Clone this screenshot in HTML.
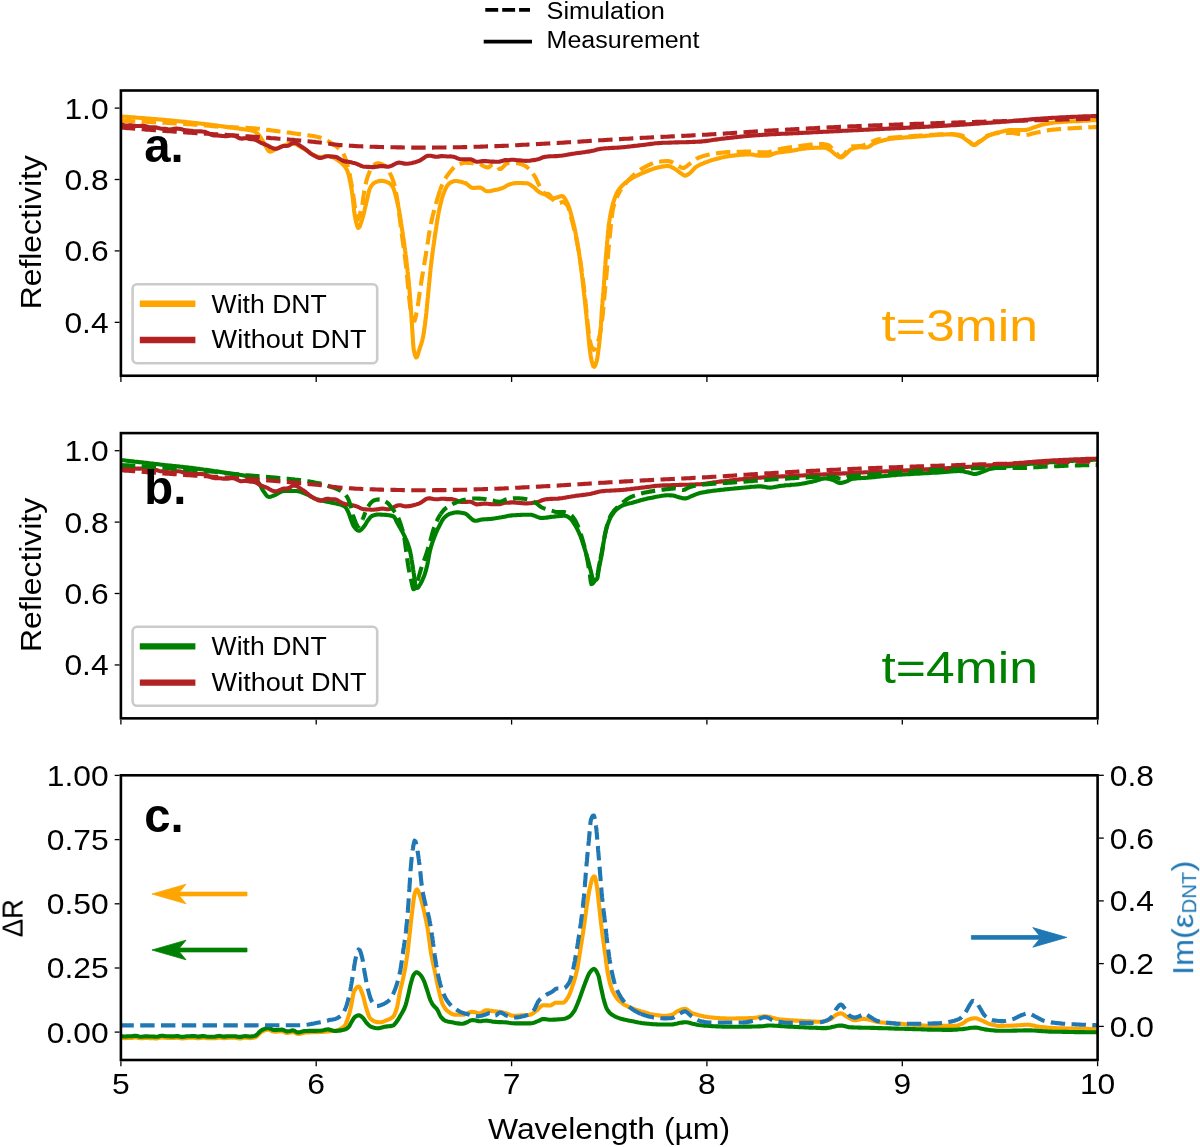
<!DOCTYPE html>
<html><head><meta charset="utf-8"><title>Reflectivity spectra</title>
<style>html,body{margin:0;padding:0;background:#fff}svg{display:block}text{font-family:"Liberation Sans", sans-serif}</style>
</head><body>
<svg width="1200" height="1147" viewBox="0 0 1200 1147" font-family='"Liberation Sans", sans-serif'>
<rect width="1200" height="1147" fill="#fff"/>
<defs>
<clipPath id="clipa"><rect x="120.9" y="90.5" width="976.6999999999999" height="285.25"/></clipPath>
<clipPath id="clipb"><rect x="120.9" y="433.1" width="976.6999999999999" height="285.25"/></clipPath>
<clipPath id="clipc"><rect x="120.9" y="775.3" width="976.6999999999999" height="284.70000000000005"/></clipPath>
<filter id="nf" x="0" y="0" width="1200" height="1147" filterUnits="userSpaceOnUse" color-interpolation-filters="sRGB"><feOffset dx="0" dy="0"/></filter>
</defs>
<path d="M120.9,120.8L122.4,120.9L123.9,120.9L125.4,121.0L126.9,121.0L128.4,121.1L129.9,121.1L131.4,121.2L132.9,121.2L134.4,121.3L135.9,121.4L137.4,121.4L138.9,121.5L140.4,121.6L141.9,121.6L143.4,121.7L144.9,121.8L146.4,121.8L147.9,121.9L149.4,122.0L150.9,122.0L152.4,122.1L153.9,122.2L155.4,122.3L156.9,122.3L158.4,122.4L159.9,122.5L161.4,122.6L162.9,122.7L164.4,122.7L165.9,122.8L167.4,122.9L168.9,123.0L170.4,123.1L171.9,123.2L173.4,123.2L174.9,123.3L176.4,123.4L177.9,123.5L179.4,123.6L180.9,123.7L182.4,123.8L183.9,123.9L185.4,124.0L186.9,124.1L188.4,124.2L189.9,124.3L191.4,124.4L192.9,124.5L194.4,124.6L195.9,124.7L197.4,124.8L198.9,124.9L200.4,125.0L201.9,125.1L203.4,125.3L204.9,125.4L206.4,125.5L207.9,125.7L209.4,125.8L210.9,126.0L212.4,126.1L213.9,126.2L215.4,126.4L216.9,126.5L218.4,126.6L219.9,126.7L221.4,126.8L222.9,126.9L224.4,127.0L225.9,127.0L227.4,127.1L228.9,127.2L230.4,127.2L231.9,127.3L233.4,127.4L234.9,127.4L236.4,127.5L237.9,127.5L239.4,127.6L240.9,127.7L242.4,127.7L243.9,127.8L245.4,127.9L246.9,127.9L248.4,128.0L249.9,128.1L251.4,128.2L252.9,128.3L254.4,128.4L255.9,128.5L257.4,128.7L258.9,128.8L260.4,129.0L261.9,129.1L263.4,129.3L264.9,129.5L266.4,129.7L267.9,129.9L269.4,130.1L270.9,130.3L272.4,130.5L273.9,130.7L275.4,130.9L276.9,131.1L278.4,131.3L279.9,131.5L281.4,131.7L282.9,131.9L284.4,132.1L285.9,132.3L287.4,132.5L288.9,132.6L290.4,132.8L291.9,133.1L293.4,133.3L294.9,133.5L296.4,133.7L297.9,133.9L299.4,134.1L300.9,134.3L302.4,134.5L303.9,134.7L305.4,134.9L306.9,135.1L308.4,135.3L309.9,135.6L311.4,135.8L312.9,136.0L314.4,136.3L315.9,136.6L317.4,136.9L318.9,137.2L320.4,137.6L321.6,138.0L322.9,138.5L324.1,139.0L325.4,139.6L326.6,140.3L327.9,141.0L329.1,141.7L330.4,142.5L331.6,143.3L332.9,144.1L334.1,145.0L335.4,145.8L336.6,146.7L337.9,147.7L338.9,148.6L339.9,149.5L340.9,150.6L341.9,151.8L342.9,153.2L343.6,154.4L344.4,155.9L345.1,157.7L345.6,159.1L346.1,160.6L346.6,162.1L347.1,163.8L347.6,165.5L348.1,167.2L348.6,169.2L349.1,171.5L349.6,173.9L349.9,175.2L350.1,176.6L350.4,177.9L350.6,179.3L350.9,180.8L351.1,182.2L351.4,183.7L351.6,185.2L351.9,186.7L352.1,188.2L352.4,189.7L352.6,191.2L352.9,192.7L353.1,194.2L353.4,195.9L353.6,197.6L353.9,199.4L354.1,201.2L354.4,203.0L354.6,204.8L354.9,206.5L355.1,208.0L355.4,209.5L355.6,210.8L355.9,212.2L356.1,213.5L356.4,214.9L356.6,216.2L357.1,218.3L357.9,219.5L358.6,218.3L359.1,216.8L359.6,215.1L360.1,213.5L360.6,212.0L361.1,210.2L361.6,208.2L362.1,206.0L362.4,204.5L362.6,202.9L362.9,201.2L363.1,199.3L363.4,197.4L363.6,195.5L363.9,193.6L364.1,191.8L364.4,190.1L364.6,188.5L364.9,187.2L365.4,184.9L365.9,182.9L366.4,181.0L366.9,179.3L367.4,177.7L367.9,176.2L368.4,174.8L368.9,173.5L369.4,172.3L370.1,170.6L370.9,169.0L371.6,167.5L372.4,166.4L373.4,165.5L374.6,164.6L375.9,163.8L377.1,163.4L378.6,163.3L380.1,163.6L381.4,164.0L382.6,164.5L383.9,165.2L385.1,165.9L386.1,166.8L387.1,168.2L387.9,169.4L388.6,170.8L389.4,172.2L390.1,173.6L390.9,175.1L391.6,176.7L392.1,177.9L392.6,179.2L393.1,180.6L393.6,182.2L394.1,183.8L394.6,185.8L395.1,188.0L395.6,190.5L395.9,191.8L396.1,193.2L396.4,194.5L396.6,196.0L396.9,197.4L397.1,198.9L397.4,200.4L397.6,202.1L397.9,203.8L398.1,205.6L398.4,207.4L398.6,209.3L398.9,211.2L399.1,213.1L399.4,215.1L399.6,217.1L399.9,219.1L400.1,221.2L400.4,223.2L400.6,225.2L400.9,227.2L401.1,229.2L401.4,231.1L401.6,233.1L401.9,234.9L402.1,236.8L402.4,238.6L402.6,240.4L402.9,242.2L403.1,243.9L403.4,245.7L403.6,247.5L403.9,249.2L404.1,251.0L404.4,252.9L404.6,254.7L404.9,256.6L405.1,258.5L405.4,260.5L405.6,262.5L405.9,264.6L406.1,266.8L406.4,269.2L406.6,271.6L406.9,274.2L407.1,276.8L407.4,279.5L407.6,282.2L407.9,284.9L408.1,287.6L408.4,290.2L408.6,292.7L408.9,295.1L409.1,297.3L409.4,299.7L409.6,302.1L409.9,304.5L410.1,306.8L410.4,309.1L410.6,311.2L410.9,313.0L411.1,314.5L411.6,316.4L412.1,317.8L412.6,319.0L413.4,320.4L414.6,320.7L415.1,319.3L415.6,317.2L416.1,314.8L416.6,312.5L416.9,311.3L417.1,309.9L417.4,308.4L417.6,306.8L417.9,305.2L418.1,303.5L418.4,301.8L418.6,300.0L418.9,298.2L419.1,296.4L419.4,294.7L419.6,292.9L419.9,291.1L420.1,289.4L420.4,287.8L420.6,286.2L420.9,284.6L421.1,283.1L421.4,281.5L421.6,280.0L421.9,278.5L422.1,277.0L422.4,275.5L422.6,274.0L422.9,272.5L423.1,271.0L423.4,269.5L423.6,268.0L423.9,266.5L424.1,265.0L424.4,263.5L424.6,262.0L424.9,260.5L425.1,259.0L425.4,257.5L425.6,256.0L425.9,254.5L426.1,253.0L426.4,251.4L426.6,249.8L426.9,248.2L427.1,246.6L427.4,245.0L427.6,243.4L427.9,241.8L428.1,240.2L428.4,238.6L428.6,237.0L428.9,235.4L429.1,233.9L429.4,232.4L429.6,230.9L429.9,229.5L430.1,228.1L430.4,226.7L430.6,225.4L431.1,223.0L431.6,220.7L432.1,218.5L432.6,216.4L433.1,214.3L433.6,212.4L434.1,210.5L434.6,208.6L435.1,206.8L435.6,205.1L436.1,203.3L436.6,201.6L437.1,199.9L437.6,198.2L438.1,196.5L438.6,194.8L439.1,193.2L439.6,191.6L440.1,190.1" fill="none" stroke="#ffa500" stroke-width="4.1" stroke-linejoin="round" stroke-dasharray="14.4 6.4" stroke-dashoffset="0.00" clip-path="url(#clipa)"/>
<path d="M440.1,190.1L440.6,188.7L441.1,187.3L441.6,186.0L442.1,184.8L442.9,183.2L443.6,181.6L444.4,180.2L445.1,178.9L445.9,177.6L446.6,176.5L447.4,175.4L448.4,174.0L449.4,172.7L450.4,171.5L451.4,170.3L452.4,169.1L453.4,168.0L454.4,167.0L455.4,166.2L456.6,165.4L457.9,164.8L459.1,164.3L460.4,163.8L461.6,163.4L463.1,163.1L464.6,162.8L466.1,162.8L467.6,162.9L469.1,163.0L470.6,163.0L472.1,163.1L473.6,163.1L475.1,163.2L476.6,163.2L478.1,163.3L479.6,163.7L480.9,164.4L482.1,165.2L483.4,166.0L484.6,166.6L485.9,167.0L487.1,167.4L488.6,167.4L489.9,166.5L490.9,165.6L492.1,164.7L493.6,164.6L494.9,164.9L496.1,165.5L497.4,166.3L498.4,167.7L499.4,168.9L500.6,169.0L501.9,168.1L502.9,167.1L503.9,166.1L504.9,165.0L505.9,163.9L507.1,163.3L508.6,163.3L510.1,163.3L511.6,163.3L513.1,163.3L514.6,163.3L516.1,163.3L517.6,163.3L519.1,163.5L520.6,164.0L521.9,164.4L523.1,164.9L524.4,165.5L525.6,166.2L526.9,167.0L527.9,167.9L528.9,168.9L529.9,169.9L530.9,171.0L531.9,172.2L532.9,173.5L533.6,174.6L534.4,175.8L535.1,176.9L535.9,178.3L536.6,179.8L537.4,181.4L538.1,183.1L538.9,184.6L539.6,186.1L540.4,187.4L541.1,188.6L541.9,189.9L542.6,191.0L543.4,192.1L544.4,193.4L545.4,194.4L546.4,195.2L547.6,196.1L548.9,196.9L550.1,197.7L551.4,198.4L552.6,199.3L553.9,200.3L554.9,201.3L555.9,202.2L557.1,203.1L558.6,203.2L559.9,202.9L561.1,202.4L562.4,202.1L563.9,202.2L565.1,203.0L566.1,204.0L567.1,205.2L567.9,206.5L568.6,208.4L569.1,209.9L569.6,211.5L570.1,213.3L570.6,215.2L571.1,217.2L571.6,219.2L572.1,221.2L572.6,223.2L573.1,225.1L573.6,227.0L574.1,229.1L574.6,231.2L575.1,233.3L575.6,235.6L576.1,237.9L576.6,240.3L577.1,242.8L577.6,245.4L577.9,246.7L578.1,248.1L578.4,249.4L578.6,250.9L578.9,252.3L579.1,253.8L579.4,255.3L579.6,256.8L579.9,258.4L580.1,260.0L580.4,261.6L580.6,263.2L580.9,264.8L581.1,266.5L581.4,268.2L581.6,270.0L581.9,271.8L582.1,273.6L582.4,275.5L582.6,277.3L582.9,279.3L583.1,281.2L583.4,283.2L583.6,285.3L583.9,287.3L584.1,289.5L584.4,291.7L584.6,293.9L584.9,296.2L585.1,298.5L585.4,300.8L585.6,303.2L585.9,305.5L586.1,307.9L586.4,310.3L586.6,312.8L586.9,315.3L587.1,317.8L587.4,320.3L587.6,322.7L587.9,325.0L588.1,327.1L588.4,329.1L588.6,331.0L588.9,332.9L589.1,334.7L589.4,336.6L589.6,338.3L589.9,339.9L590.1,341.4L590.4,342.7L590.9,344.7L591.4,346.0L591.9,347.2L592.6,348.8L593.6,349.9L594.9,349.4L595.6,348.1L596.4,346.4L597.1,344.6L597.6,343.3L598.1,341.7L598.6,339.9L599.1,337.9L599.6,335.6L600.1,333.3L600.4,331.9L600.6,330.5L600.9,328.9L601.1,327.3L601.4,325.5L601.6,323.7L601.9,321.8L602.1,319.9L602.4,317.8L602.6,315.7L602.9,313.4L603.1,310.8L603.4,308.1L603.6,305.4L603.9,302.6L604.1,299.8L604.4,297.1L604.6,294.4L604.9,291.9L605.1,289.3L605.4,286.8L605.6,284.2L605.9,281.6L606.1,278.9L606.4,276.1L606.6,273.3L606.9,270.2L607.1,267.0L607.4,263.7L607.6,260.5L607.9,257.2L608.1,254.1L608.4,251.1L608.6,248.3L608.9,245.7L609.1,243.1L609.4,240.5L609.6,238.0L609.9,235.6L610.1,233.2L610.4,230.9L610.6,228.6L610.9,226.2L611.1,223.8L611.4,221.4L611.6,219.0L611.9,216.7L612.1,214.6L612.4,212.6L612.6,210.9L612.9,209.5L613.4,207.3L613.9,205.3L614.4,203.6L614.9,202.1L615.4,200.7L615.9,199.5L616.6,197.8L617.4,196.1L618.1,194.6L618.9,193.2L619.6,191.9L620.4,190.7" fill="none" stroke="#ffa500" stroke-width="4.1" stroke-linejoin="round" stroke-dasharray="14.4 6.4" stroke-dashoffset="8.22" clip-path="url(#clipa)"/>
<path d="M620.4,190.7L621.1,189.6L621.9,188.5L622.9,187.1L623.9,185.7L624.9,184.4L625.9,183.2L626.9,182.0L627.9,180.8L628.9,179.7L629.9,178.6L630.9,177.6L631.9,176.6L632.9,175.7L633.9,174.8L634.9,173.9L636.1,172.9L637.4,171.9L638.6,171.0L639.9,170.1L641.1,169.2L642.4,168.4L643.6,167.7L644.9,167.0L646.1,166.4L647.4,165.7L648.6,165.1L649.9,164.5L651.1,163.9L652.4,163.4L653.6,162.9L654.9,162.5L656.4,162.1L657.9,161.9L659.4,161.7L660.9,161.5L662.4,161.3L663.9,161.2L665.4,161.1L666.9,161.0L668.4,161.1L669.9,161.4L671.1,161.8L672.4,162.4L673.6,163.0L674.9,163.6L676.1,164.2L677.4,165.1L678.6,166.0L679.9,166.8L681.1,167.5L682.4,167.9L683.9,167.9L685.1,167.3L686.4,166.5L687.6,165.4L688.6,164.6L689.9,163.7L691.1,162.8L692.4,161.8L693.6,160.8L694.9,159.9L696.1,159.0L697.4,158.3L698.6,157.7L699.9,157.2L701.1,156.8L702.4,156.3L703.6,155.9L704.9,155.6L706.4,155.2L707.9,154.8L709.4,154.5L710.9,154.2L712.4,154.0L713.9,153.7L715.4,153.5L716.9,153.3L718.4,153.1L719.9,152.9L721.4,152.7L722.9,152.5L724.4,152.4L725.9,152.2L727.4,152.1L728.9,152.0L730.4,152.0L731.9,151.9L733.4,151.9L734.9,151.8L736.4,151.8L737.9,151.8L739.4,151.7L740.9,151.7L742.4,151.7L743.9,151.6L745.4,151.6L746.9,151.6L748.4,151.6L749.9,151.6L751.4,151.6L752.9,151.7L754.4,151.8L755.9,151.9L757.4,152.0L758.9,152.1L760.4,152.2L761.9,152.3L763.4,152.4L764.9,152.4L766.4,152.3L767.9,152.2L769.4,151.9L770.9,151.5L772.4,151.1L773.6,150.7L774.9,150.3L776.1,149.9L777.6,149.5L779.1,149.2L780.6,148.9L782.1,148.6L783.6,148.4L785.1,148.1L786.6,147.9L788.1,147.6L789.6,147.4L791.1,147.2L792.6,147.0L794.1,146.8L795.6,146.5L797.1,146.4L798.6,146.2L800.1,146.0L801.6,145.8L803.1,145.6L804.6,145.4L806.1,145.2L807.6,145.0L809.1,144.8L810.6,144.6L812.1,144.5L813.6,144.3L815.1,144.2L816.6,144.1L818.1,144.0L819.6,144.0L821.1,144.0L822.6,144.1L824.1,144.3L825.6,144.5L827.1,144.8L828.6,145.2L829.9,146.2L830.9,147.2L831.9,148.4L832.9,149.7L833.9,150.9L834.9,151.9L835.9,152.9L836.9,153.9L837.9,155.0L838.9,155.9L840.1,156.6L841.6,156.7L842.9,155.8L843.9,154.7L844.9,153.5L845.9,152.2L846.9,151.1L847.9,150.1L848.9,148.9L849.9,147.8L850.9,147.0L852.1,146.5L853.6,146.3L855.1,146.3L856.6,146.2L858.1,146.1L859.6,146.0L861.1,145.8L862.6,145.5L863.9,145.2L865.1,144.7L866.4,144.2L867.6,143.7L868.9,143.2L870.1,142.6L871.4,142.0L872.6,141.4L873.9,140.9L875.1,140.4L876.4,139.9L877.6,139.5L879.1,139.2L880.6,138.9" fill="none" stroke="#ffa500" stroke-width="4.1" stroke-linejoin="round" stroke-dasharray="14.4 6.4" stroke-dashoffset="12.65" clip-path="url(#clipa)"/>
<path d="M880.6,138.9L882.1,138.7L883.6,138.5L885.1,138.3L886.6,138.1L888.1,138.0L889.6,137.8L891.1,137.7L892.6,137.6L894.1,137.5L895.6,137.3L897.1,137.2L898.6,137.1L900.1,137.0L901.6,136.9L903.1,136.8L904.6,136.6L906.1,136.5L907.6,136.4L909.1,136.3L910.6,136.2L912.1,136.1L913.6,136.0L915.1,135.9L916.6,135.8L918.1,135.7L919.6,135.6L921.1,135.5L922.6,135.4L924.1,135.3L925.6,135.3L927.1,135.2L928.6,135.1L930.1,135.0L931.6,134.9L933.1,134.8L934.6,134.7L936.1,134.6L937.6,134.5L939.1,134.4L940.6,134.3L942.1,134.2L943.6,134.2L945.1,134.1L946.6,134.0L948.1,134.0L949.6,134.0L951.1,134.0L952.6,134.1L954.1,134.2L955.6,134.4L957.1,134.6L958.6,134.8L960.1,135.1L961.6,135.4L962.9,135.9L964.1,136.8L965.1,137.8L966.1,138.8L967.1,139.8L968.4,140.8L969.4,141.7L970.4,142.5L971.6,143.6L972.9,144.3L974.4,144.5L975.6,144.1L976.9,143.3L978.1,142.3L979.4,141.4L980.6,140.6L981.9,139.6L983.1,138.6L984.4,137.6L985.6,136.7L986.9,136.0L988.1,135.5L989.4,135.0L990.6,134.7L991.9,134.3L993.4,133.9L994.9,133.6L996.4,133.3L997.9,133.1L999.4,133.0L1000.9,133.0L1002.4,133.0L1003.9,133.0L1005.4,133.0L1006.9,133.0L1008.4,133.0L1009.9,133.0L1011.4,133.0L1012.9,133.0L1014.4,133.2L1015.9,133.4L1017.4,133.7L1018.9,134.1L1020.4,134.4L1021.9,134.7L1023.4,134.9L1024.9,135.0L1026.4,134.9L1027.9,134.7L1029.4,134.4L1030.9,134.0L1032.4,133.6L1033.9,133.2L1035.4,132.9L1036.9,132.6L1038.4,132.3L1039.9,131.9L1041.4,131.6L1042.9,131.3L1044.4,130.9L1045.9,130.6L1047.4,130.4L1048.9,130.1L1050.4,130.0L1051.9,129.8L1053.4,129.6L1054.9,129.5L1056.4,129.4L1057.9,129.2L1059.4,129.1L1060.9,129.0L1062.4,128.9L1063.9,128.8L1065.4,128.7L1066.9,128.6L1068.4,128.5L1069.9,128.4L1071.4,128.3L1072.9,128.2L1074.4,128.1L1075.9,128.0L1077.4,128.0L1078.9,127.9L1080.4,127.8L1081.9,127.7L1083.4,127.6L1084.9,127.5L1086.4,127.5L1087.9,127.4L1089.4,127.3L1090.9,127.3L1092.4,127.2L1093.9,127.1L1095.4,127.1L1096.9,127.0L1097.6,127.0" fill="none" stroke="#ffa500" stroke-width="4.1" stroke-linejoin="round" stroke-dasharray="14.4 6.4" stroke-dashoffset="13.65" clip-path="url(#clipa)"/>
<path d="M120.9,116.5L122.4,116.6L123.9,116.7L125.4,116.8L126.9,116.9L128.4,117.0L129.9,117.1L131.4,117.2L132.9,117.3L134.4,117.4L135.9,117.5L137.4,117.7L138.9,117.8L140.4,117.9L141.9,118.0L143.4,118.1L144.9,118.2L146.4,118.4L147.9,118.5L149.4,118.6L150.9,118.7L152.4,118.9L153.9,119.0L155.4,119.1L156.9,119.2L158.4,119.4L159.9,119.5L161.4,119.6L162.9,119.8L164.4,119.9L165.9,120.0L167.4,120.2L168.9,120.3L170.4,120.4L171.9,120.6L173.4,120.7L174.9,120.9L176.4,121.0L177.9,121.2L179.4,121.3L180.9,121.5L182.4,121.6L183.9,121.8L185.4,121.9L186.9,122.1L188.4,122.2L189.9,122.4L191.4,122.6L192.9,122.7L194.4,122.9L195.9,123.0L197.4,123.2L198.9,123.4L200.4,123.5L201.9,123.7L203.4,123.9L204.9,124.1L206.4,124.3L207.9,124.4L209.4,124.6L210.9,124.8L212.4,125.0L213.9,125.2L215.4,125.4L216.9,125.6L218.4,125.8L219.9,126.0L221.4,126.2L222.9,126.4L224.4,126.6L225.9,126.8L227.4,127.0L228.9,127.2L230.4,127.4L231.9,127.6L233.4,127.8L234.9,128.1L236.4,128.3L237.9,128.5L239.4,128.7L240.9,128.9L242.4,129.1L243.9,129.3L245.4,129.5L246.9,129.6L248.4,129.9L249.9,130.1L251.4,130.4L252.9,130.8L254.2,131.2L255.4,132.0L256.6,132.9L257.6,133.7L258.6,134.7L259.6,136.0L260.4,137.1L261.1,138.3L261.9,139.6L262.6,140.9L263.4,142.1L264.1,143.2L264.9,144.5L265.6,145.9L266.4,147.3L267.1,148.7L267.9,150.0L268.9,151.2L270.1,151.7L271.6,151.3L272.9,150.7L274.1,150.0L275.4,149.3L276.6,148.7L277.9,148.1L279.1,147.5L280.4,146.9L281.6,146.3L282.9,145.8L284.1,145.3L285.4,144.8L286.9,144.5L288.4,144.1L289.9,143.8L291.4,143.6L292.9,143.5L294.4,143.7L295.6,144.1L296.9,144.7L298.1,145.4L299.4,146.2L300.6,146.9L301.9,147.7L303.1,148.4L304.4,149.0L305.6,149.8L306.9,150.6L308.1,151.4L309.4,152.3L310.6,153.1L311.9,154.0L313.1,154.7L314.4,155.4L315.6,156.0L316.9,156.5L318.4,156.9L319.9,157.0L321.4,156.9L322.9,156.7L324.4,156.4L325.9,156.2L327.4,156.0L328.9,156.0L330.4,156.3L331.6,156.7L332.9,157.2L334.1,157.9L335.4,158.6L336.6,159.4L337.9,160.2L339.1,161.1L340.4,162.0L341.6,163.0L342.6,163.9L343.6,165.0L344.6,166.2L345.4,167.3L346.1,168.5L346.9,169.8L347.6,171.5L348.1,173.0L348.6,174.8L349.1,176.8L349.6,179.1L350.1,181.5L350.4,182.8L350.6,184.1L350.9,185.5L351.1,186.8L351.4,188.2L351.6,189.7L351.9,191.1L352.1,192.6L352.4,194.5L352.6,196.5L352.9,198.8L353.1,201.2L353.4,203.6L353.6,206.1L353.9,208.5L354.1,210.7L354.4,212.8L354.6,214.7L354.9,216.2L355.4,218.6L355.9,221.0L356.4,223.2L356.9,225.1L357.4,226.6L358.1,227.9L359.4,227.1L360.1,225.4L360.6,224.0L361.1,222.5L361.6,221.0L362.1,219.6L362.6,218.0L363.1,216.2L363.6,214.3L364.1,212.2L364.6,210.1L365.1,207.9L365.6,205.7L366.1,203.5L366.6,201.4L367.1,199.4L367.6,197.2L368.1,194.9L368.6,192.7L369.1,190.7L369.6,189.1L370.4,187.6L371.1,186.3L371.9,185.2L372.9,184.0L373.9,183.1L375.1,182.4L376.4,181.9L377.6,181.5L379.1,181.1L380.6,180.9L382.1,180.8L383.6,181.0L385.1,181.4L386.4,181.8L387.6,182.3L388.9,182.9L390.1,183.8L391.1,184.7L392.1,185.8L392.9,187.0L393.6,188.7L394.1,190.1L394.6,191.7L395.1,193.4L395.6,195.3L396.1,197.2L396.6,199.3L397.1,201.3L397.6,203.4L398.1,205.7L398.6,208.2L398.9,209.6L399.1,211.0L399.4,212.4L399.6,213.8L399.9,215.3L400.1,216.9L400.4,218.4L400.6,220.0L400.9,221.6L401.1,223.3L401.4,224.9L401.6,226.5L401.9,228.2L402.1,229.9L402.4,231.5L402.6,233.2L402.9,234.9L403.1,236.5L403.4,238.2L403.6,239.9L403.9,241.6L404.1,243.4L404.4,245.2L404.6,247.0L404.9,248.8L405.1,250.6L405.4,252.5L405.6,254.5L405.9,256.4L406.1,258.4L406.4,260.4L406.6,262.5L406.9,264.6L407.1,266.8L407.4,269.0L407.6,271.3L407.9,273.6L408.1,275.9L408.4,278.3L408.6,280.8L408.9,283.4L409.1,286.0L409.4,288.7L409.6,291.6L409.9,294.5L410.1,297.5L410.4,300.8L410.6,304.4L410.9,308.1L411.1,312.0L411.4,316.0L411.6,320.0L411.9,323.8L412.1,327.6L412.4,331.4L412.6,335.5L412.9,339.6L413.1,343.5L413.4,346.7L413.6,348.9L413.9,350.3L414.4,352.7L414.9,354.7L415.4,356.3L416.1,357.5L417.1,356.8L417.6,355.5L418.1,353.9L418.6,352.1L419.1,350.3L419.6,348.8L420.1,347.3L420.6,345.9L421.1,344.4L421.6,342.8L422.1,341.0L422.6,339.0L423.1,336.6L423.4,335.2L423.6,333.8L423.9,332.2L424.1,330.5L424.4,328.7L424.6,326.9L424.9,325.0L425.1,323.1L425.4,321.1L425.6,319.1L425.9,317.1L426.1,314.9L426.4,312.5L426.6,310.0L426.9,307.4L427.1,304.7L427.4,302.1L427.6,299.5L427.9,296.9L428.1,294.4L428.4,291.8L428.6,289.1L428.9,286.5L429.1,283.8L429.4,281.2L429.6,278.6L429.9,276.0L430.1,273.5L430.4,271.0L430.6,268.6L430.9,266.4L431.1,264.2L431.4,262.1L431.6,260.0L431.9,258.0L432.1,256.0L432.4,254.1L432.6,252.2L432.9,250.3L433.1,248.4L433.4,246.6L433.6,244.8L433.9,243.1L434.1,241.3L434.4,239.6L434.6,237.9L434.9,236.2L435.1,234.5L435.4,232.9L435.6,231.2L435.9,229.5L436.1,227.9L436.4,226.3L436.6,224.6L436.9,223.0L437.1,221.5L437.4,219.9L437.6,218.4L437.9,216.9L438.1,215.5L438.4,214.1L438.6,212.7L438.9,211.4L439.4,209.0L439.9,206.7L440.4,204.6L440.9,202.5L441.4,200.5L441.9,198.6L442.4,196.9L442.9,195.3L443.4,193.9L443.9,192.7L444.4,191.5L445.1,189.7L445.9,188.1L446.6,186.7L447.4,185.5L448.4,184.2L449.6,183.3L450.9,182.4L452.1,181.8L453.4,181.3L454.9,181.0L456.4,181.0L457.9,181.2L459.4,181.5L460.9,181.8L462.4,182.2L463.6,182.6L464.9,183.0L466.1,183.5L467.4,184.4L468.4,185.3L469.4,186.2L470.6,187.1L471.9,187.8L473.4,188.0L474.9,187.9L476.4,187.8L477.9,187.6L479.4,187.5L480.9,187.7L482.1,188.4L483.4,189.3L484.6,190.3L485.9,191.0L487.4,191.3L488.9,191.2L490.4,191.0L491.9,190.7L493.4,190.3L494.9,190.0L496.4,189.7L497.9,189.4L499.4,189.0L500.9,188.6L502.1,188.2L503.4,187.7L504.6,187.0L505.9,186.2L507.1,185.5L508.4,184.8L509.6,184.3L511.1,183.9L512.6,183.6L514.1,183.3L515.6,183.1L517.1,183.0L518.6,183.0L520.1,183.0L521.6,183.0L523.1,183.1L524.6,183.2L526.1,183.2L527.6,183.4L528.9,183.9L530.1,184.6L531.4,185.5L532.6,186.5L533.9,187.4L534.9,188.2L535.9,189.2L536.9,190.2L537.9,191.1L539.1,192.0L540.4,192.7L541.6,193.3L542.9,193.8L544.4,194.2L545.9,194.1L547.4,193.8L548.9,194.2L549.9,195.3L550.9,196.6L551.9,197.7L553.1,198.3L554.6,198.1L556.1,197.7L557.6,197.3L558.9,196.8L560.1,196.4L561.6,196.0L562.9,196.3L563.9,197.2L564.9,198.7L565.6,199.9L566.4,201.3L567.1,202.7L567.9,204.3L568.4,205.5L568.9,206.9L569.4,208.4L569.9,210.0L570.4,211.7L570.9,213.5L571.4,215.4L571.9,217.3L572.4,219.3L572.9,221.3L573.4,223.3L573.9,225.4L574.4,227.5L574.9,229.8L575.4,232.2L575.9,234.8L576.1,236.1L576.4,237.4L576.6,238.7L576.9,240.1L577.1,241.5L577.4,242.9L577.6,244.3L577.9,245.8L578.1,247.3L578.4,248.8L578.6,250.4L578.9,252.0L579.1,253.7L579.4,255.4L579.6,257.1L579.9,258.9L580.1,260.7L580.4,262.5L580.6,264.4L580.9,266.3L581.1,268.2L581.4,270.2L581.6,272.2L581.9,274.3L582.1,276.5L582.4,278.6L582.6,280.8L582.9,283.0L583.1,285.2L583.4,287.4L583.6,289.6L583.9,291.8L584.1,294.0L584.4,296.3L584.6,298.5L584.9,300.8L585.1,303.2L585.4,305.5L585.6,307.9L585.9,310.3L586.1,312.7L586.4,315.2L586.6,317.7L586.9,320.3L587.1,322.8L587.4,325.3L587.6,327.8L587.9,330.3L588.1,333.0L588.4,335.7L588.6,338.3L588.9,341.0L589.1,343.5L589.4,345.9L589.6,348.0L589.9,349.9L590.1,351.8L590.4,353.6L590.6,355.3L590.9,356.9L591.1,358.3L591.4,359.7L591.9,361.8L592.4,363.6L592.9,365.2L593.4,366.4L594.4,366.8L595.1,365.6L595.6,364.4L596.1,362.9L596.6,361.3L597.1,359.0L597.4,357.6L597.6,356.0L597.9,354.3L598.1,352.5L598.4,350.7L598.6,348.8L598.9,346.8L599.1,344.7L599.4,342.4L599.6,340.0L599.9,337.4L600.1,334.7L600.4,331.9L600.6,328.9L600.9,325.7L601.1,322.0L601.4,318.1L601.6,314.1L601.9,310.2L602.1,306.7L602.4,303.5L602.6,300.4L602.9,297.5L603.1,294.5L603.4,291.5L603.6,288.4L603.9,285.2L604.1,281.7L604.4,278.2L604.6,274.6L604.9,271.0L605.1,267.5L605.4,264.2L605.6,261.0L605.9,257.8L606.1,254.7L606.4,251.6L606.6,248.6L606.9,245.7L607.1,242.9L607.4,240.0L607.6,237.1L607.9,234.2L608.1,231.4L608.4,228.9L608.6,226.5L608.9,224.4L609.1,222.7L609.4,221.0L609.6,219.4L609.9,217.8L610.1,216.3L610.4,214.9L610.6,213.6L610.9,212.3L611.4,209.8L611.9,207.6L612.4,205.6L612.9,203.8L613.4,202.2L613.9,200.6L614.4,199.1L614.9,197.7L615.4,196.4L615.9,195.2L616.6,193.5L617.4,192.0L618.1,190.7L618.9,189.6L619.9,188.3L620.9,187.1L621.9,185.9L622.9,184.9L623.9,184.0L624.9,183.1L626.1,182.1L627.4,181.2L628.6,180.3L629.9,179.5L631.1,178.7L632.4,178.0L633.6,177.3L634.9,176.6L636.1,176.0L637.4,175.4L638.6,174.8L639.9,174.2L641.1,173.7L642.4,173.1L643.6,172.5L644.9,172.0L646.1,171.5L647.4,171.0L648.6,170.5L649.9,170.0L651.1,169.6L652.4,169.2L653.6,168.7L654.9,168.3L656.1,167.9L657.6,167.5L659.1,167.2L660.6,166.9L662.1,166.6L663.6,166.4L665.1,166.2L666.6,166.0L668.1,166.0L669.6,166.3L670.9,166.7L672.1,167.4L673.4,168.1L674.6,168.8L675.9,169.5L677.1,170.4L678.4,171.4L679.6,172.3L680.9,173.3L682.1,174.1L683.4,175.0L684.6,175.6L686.1,175.4L687.4,174.8L688.6,174.0L689.9,173.1L691.1,172.0L692.1,171.0L693.1,169.8L694.1,168.7L695.1,167.7L696.4,166.7L697.6,166.0L698.9,165.3L700.1,164.7L701.4,164.1L702.6,163.6L703.9,163.0L705.1,162.5L706.4,162.1L707.6,161.6L708.9,161.2L710.1,160.7L711.4,160.3L712.6,159.9L713.9,159.6L715.4,159.2L716.9,158.8L718.4,158.4L719.9,158.0L721.4,157.6L722.9,157.3L724.4,156.9L725.9,156.6L727.4,156.4L728.9,156.1L730.4,156.0L731.9,155.8L733.4,155.6L734.9,155.4L736.4,155.3L737.9,155.1L739.4,155.0L740.9,154.8L742.4,154.7L743.9,154.6L745.4,154.5L746.9,154.5L748.4,154.4L749.9,154.4L751.4,154.5L752.9,154.6L754.4,154.9L755.9,155.2L757.4,155.4L758.9,155.6L760.4,155.6L761.9,155.6L763.4,155.6L764.9,155.6L766.4,155.6L767.9,155.6L769.4,155.4L770.6,155.1L771.9,154.5L773.1,154.0L774.4,153.5L775.6,153.1L777.1,152.8L778.6,152.5L780.1,152.3L781.6,152.1L783.1,151.9L784.6,151.7L786.1,151.5L787.6,151.3L789.1,151.1L790.6,150.9L792.1,150.7L793.6,150.4L795.1,150.1L796.6,149.9L798.1,149.6L799.6,149.3L801.1,149.1L802.6,148.8L804.1,148.6L805.6,148.4L807.1,148.2L808.6,148.1L810.1,148.0L811.6,147.9L813.1,147.9L814.6,147.8L816.1,147.7L817.6,147.7L819.1,147.7L820.6,147.6L822.1,147.6L823.6,147.6L825.1,147.7L826.4,148.1L827.6,148.7L828.9,149.4L830.1,150.1L831.4,151.0L832.4,151.9L833.4,152.8L834.4,153.7L835.4,154.6L836.6,155.4L837.9,156.3L839.1,157.1L840.4,157.5L841.9,157.4L843.1,156.6L844.1,155.7L845.1,154.7L846.1,153.9L847.1,153.0L848.1,152.0L849.1,151.0L850.1,150.1L851.4,149.3L852.6,148.8L853.9,148.4L855.1,148.0L856.6,147.7L858.1,147.4L859.6,147.3L861.1,147.3L862.6,147.4L864.1,147.5L865.6,147.5L867.1,147.3L868.4,146.9L869.6,146.2L870.9,145.4L872.1,144.5L873.4,143.8L874.6,143.1L875.9,142.7L877.1,142.3L878.4,141.8L879.6,141.4L880.9,141.1L882.1,140.7L883.6,140.3L885.1,139.9L886.6,139.6L888.1,139.3L889.6,139.0L891.1,138.8L892.6,138.7L894.1,138.5L895.6,138.3L897.1,138.1L898.6,138.0L900.1,137.9L901.6,137.7L903.1,137.6L904.6,137.5L906.1,137.4L907.6,137.3L909.1,137.2L910.6,137.1L912.1,137.0L913.6,136.9L915.1,136.7L916.6,136.6L918.1,136.5L919.6,136.4L921.1,136.3L922.6,136.2L924.1,136.1L925.6,135.9L927.1,135.8L928.6,135.7L930.1,135.5L931.6,135.4L933.1,135.3L934.6,135.1L936.1,135.0L937.6,134.9L939.1,134.8L940.6,134.7L942.1,134.6L943.6,134.6L945.1,134.5L946.6,134.4L948.1,134.4L949.6,134.4L951.1,134.4L952.6,134.5L954.1,134.7L955.6,135.0L957.1,135.3L958.6,135.7L960.1,136.0L961.4,136.5L962.6,137.2L963.9,138.0L965.1,139.0L966.4,139.9L967.6,140.8L968.9,141.7L969.9,142.5L970.9,143.4L972.1,144.3L973.4,144.9L974.9,144.9L976.1,144.3L977.4,143.5L978.6,142.5L979.9,141.7L981.1,140.8L982.4,139.9L983.6,138.9L984.9,138.0L986.1,137.1L987.4,136.3L988.6,135.7L989.9,135.2L991.1,134.7L992.4,134.2L993.6,133.8L994.9,133.4L996.1,133.0L997.6,132.6L999.1,132.2L1000.6,131.9L1002.1,131.5L1003.6,131.2L1005.1,130.8L1006.6,130.5L1008.1,130.3L1009.6,130.1L1011.1,130.0L1012.6,130.0L1014.1,130.0L1015.6,130.0L1017.1,130.0L1018.6,130.0L1020.1,130.0L1021.6,130.0L1023.1,130.0L1024.7,130.0L1026.2,129.9L1027.7,129.6L1028.9,129.3L1030.2,128.8L1031.4,128.3L1032.7,127.8L1033.9,127.4L1035.2,127.0L1036.4,126.6L1037.7,126.1L1038.9,125.7L1040.2,125.3L1041.4,124.9L1042.7,124.6L1044.2,124.2L1045.7,123.9L1047.2,123.6L1048.7,123.4L1050.2,123.1L1051.7,122.9L1053.2,122.7L1054.7,122.5L1056.2,122.3L1057.7,122.2L1059.2,122.1L1060.7,122.0L1062.2,121.9L1063.7,121.8L1065.2,121.7L1066.7,121.6L1068.2,121.5L1069.7,121.5L1071.2,121.4L1072.7,121.3L1074.2,121.3L1075.7,121.2L1077.2,121.1L1078.7,121.1L1080.2,121.0L1081.7,120.9L1083.2,120.8L1084.7,120.7L1086.2,120.7L1087.7,120.6L1089.2,120.5L1090.7,120.4L1092.2,120.3L1093.7,120.2L1095.2,120.1L1096.7,120.1L1097.6,120.0" fill="none" stroke="#ffa500" stroke-width="4.1" stroke-linejoin="round" clip-path="url(#clipa)"/>
<path d="M120.9,127.6L122.4,127.7L123.9,127.8L125.4,128.0L126.9,128.1L128.4,128.2L129.9,128.3L131.4,128.4L132.9,128.5L134.4,128.6L135.9,128.8L137.4,128.9L138.9,129.0L140.4,129.1L141.9,129.2L143.4,129.3L144.9,129.4L146.4,129.6L147.9,129.7L149.4,129.8L150.9,129.9L152.4,130.0L153.9,130.1L155.4,130.2L156.9,130.3L158.4,130.4L159.9,130.6L161.4,130.7L162.9,130.8L164.4,130.9L165.9,131.0L167.4,131.1L168.9,131.2L170.4,131.3L171.9,131.4L173.4,131.5L174.9,131.6L176.4,131.7L177.9,131.8L179.4,131.9L180.9,132.0L182.4,132.2L183.9,132.3L185.4,132.4L186.9,132.5L188.4,132.6L189.9,132.7L191.4,132.8L192.9,132.9L194.4,133.0L195.9,133.1L197.4,133.2L198.9,133.2L200.4,133.3L201.9,133.4L203.4,133.5L204.9,133.6L206.4,133.7L207.9,133.8L209.4,133.9L210.9,134.0L212.4,134.1L213.9,134.2L215.4,134.3L216.9,134.4L218.4,134.4L219.9,134.5L221.4,134.6L222.9,134.7L224.4,134.8L225.9,134.9L227.4,135.0L228.9,135.1L230.4,135.2L231.9,135.3L233.4,135.4L234.9,135.5L236.4,135.6L237.9,135.7L239.4,135.8L240.9,135.9L242.4,136.0L243.9,136.1L245.4,136.2L246.9,136.3L248.4,136.4L249.9,136.5L251.4,136.6L252.9,136.7L254.4,136.8L255.9,136.9L257.4,137.0L258.9,137.1L260.4,137.3L261.9,137.4L263.4,137.5L264.9,137.6L266.4,137.7L267.9,137.8L269.4,137.9L270.9,138.1L272.4,138.2L273.9,138.3L275.4,138.4L276.9,138.5L278.4,138.7L279.9,138.8L281.4,138.9L282.9,139.0L284.4,139.2L285.9,139.3L287.4,139.4L288.9,139.5L290.4,139.7L291.9,139.8L293.4,139.9L294.9,140.1L296.4,140.2L297.9,140.3L299.4,140.5L300.9,140.6L302.4,140.7L303.9,140.9L305.4,141.0L306.9,141.2L308.4,141.3L309.9,141.5L311.4,141.6L312.9,141.8L314.4,141.9L315.9,142.1L317.4,142.2L318.9,142.4L320.4,142.5L321.9,142.7L323.4,142.9L324.9,143.1L326.4,143.3L327.9,143.5L329.4,143.7L330.9,144.0L332.4,144.2L333.9,144.4L335.4,144.5L336.9,144.7L338.4,144.9L339.9,145.0L341.4,145.1L342.9,145.2L344.4,145.3L345.9,145.4L347.4,145.5L348.9,145.6L350.4,145.7L351.9,145.8L353.4,145.9L354.9,146.0L356.4,146.1L357.9,146.2L359.4,146.2L360.9,146.3L362.4,146.4L363.9,146.4L365.4,146.5L366.9,146.6L368.4,146.6L369.9,146.7L371.4,146.7L372.9,146.8L374.4,146.8L375.9,146.9L377.4,146.9L378.9,147.0L380.4,147.0L381.9,147.0L383.4,147.1L384.9,147.1L386.4,147.1L387.9,147.2L389.4,147.2L390.9,147.2L392.4,147.3L393.9,147.3L395.4,147.3L396.9,147.4L398.4,147.4L399.9,147.4L401.4,147.4L402.9,147.5L404.4,147.5L405.9,147.5L407.4,147.5L408.9,147.5L410.4,147.6L411.9,147.6L413.4,147.6L414.9,147.6L416.4,147.6L417.9,147.6L419.4,147.6L420.9,147.6L422.4,147.6L423.9,147.6L425.4,147.6L426.9,147.6L428.4,147.6L429.9,147.6L431.4,147.6L432.9,147.6L434.4,147.5L435.9,147.5L437.4,147.5L438.9,147.5L440.4,147.5L441.9,147.5L443.4,147.5L444.9,147.5L446.4,147.4L447.9,147.4L449.4,147.4L450.9,147.4L452.4,147.3L453.9,147.3L455.4,147.3L456.9,147.3L458.4,147.2L459.9,147.2L461.4,147.2L462.9,147.1L464.4,147.1L465.9,147.1L467.4,147.0L468.9,147.0L470.4,146.9L471.9,146.9L473.4,146.9L474.9,146.8L476.4,146.8L477.9,146.7L479.4,146.7L480.9,146.6L482.4,146.6L483.9,146.5L485.4,146.5L486.9,146.4L488.4,146.4L489.9,146.3L491.4,146.3L492.9,146.2L494.4,146.2L495.9,146.1L497.4,146.1L498.9,146.0L500.4,146.0L501.9,145.9L503.4,145.9L504.9,145.8L506.4,145.7L507.9,145.7L509.4,145.6L510.9,145.5L512.4,145.4L513.9,145.3L515.4,145.2L516.9,145.2L518.4,145.1L519.9,145.0L521.4,144.9L522.9,144.8L524.4,144.8L525.9,144.7L527.4,144.6L528.9,144.5L530.4,144.5L531.9,144.4L533.4,144.3L534.9,144.2L536.4,144.1L537.9,144.0L539.4,144.0L540.9,143.9L542.4,143.8L543.9,143.7L545.4,143.6L546.9,143.5L548.4,143.5L549.9,143.4L551.4,143.3L552.9,143.2L554.4,143.1L555.9,143.0L557.4,143.0L558.9,142.9L560.4,142.8L561.9,142.7L563.4,142.6L564.9,142.5L566.4,142.4L567.9,142.3L569.4,142.2L570.9,142.1L572.4,142.0L573.9,141.9L575.4,141.9L576.9,141.8L578.4,141.7L579.9,141.6L581.4,141.5L582.9,141.4L584.4,141.3L585.9,141.2L587.4,141.1L588.9,141.0L590.4,140.9L591.9,140.8L593.4,140.7L594.9,140.6L596.4,140.5L597.9,140.4L599.4,140.3L600.9,140.2L602.4,140.2L603.9,140.1L605.4,140.0L606.9,139.9L608.4,139.8L609.9,139.7L611.4,139.6L612.9,139.5L614.4,139.4L615.9,139.4L617.4,139.3L618.9,139.2L620.4,139.1L621.9,139.0L623.4,138.9L624.9,138.8L626.4,138.8L627.9,138.7L629.4,138.6L630.9,138.5L632.4,138.4L633.9,138.3L635.4,138.2L636.9,138.2L638.4,138.1L639.9,138.0L641.4,137.9L642.9,137.8L644.4,137.8L645.9,137.7L647.4,137.6L648.9,137.5L650.4,137.5L651.9,137.4L653.4,137.3L654.9,137.2L656.4,137.2L657.9,137.1L659.4,137.0L660.9,136.9L662.4,136.9L663.9,136.8L665.4,136.7L666.9,136.7L668.4,136.6L669.9,136.5L671.4,136.4L672.9,136.4L674.4,136.3L675.9,136.2L677.4,136.2L678.9,136.1L680.4,136.0L681.9,135.9L683.4,135.9L684.9,135.8L686.4,135.7L687.9,135.6L689.4,135.6L690.9,135.5L692.4,135.4L693.9,135.3L695.4,135.2L696.9,135.2L698.4,135.1L699.9,135.0L701.4,134.9L702.9,134.8L704.4,134.8L705.9,134.7L707.4,134.6L708.9,134.5L710.4,134.4L711.9,134.3L713.4,134.2L714.9,134.1L716.4,134.0L717.9,133.9L719.4,133.8L720.9,133.7L722.4,133.7L723.9,133.6L725.4,133.5L726.9,133.4L728.4,133.3L729.9,133.2L731.4,133.1L732.9,133.0L734.4,132.9L735.9,132.8L737.4,132.7L738.9,132.6L740.4,132.5L741.9,132.4L743.4,132.3L744.9,132.2L746.4,132.1L747.9,132.0L749.4,131.9L750.9,131.8L752.4,131.7L753.9,131.6L755.4,131.5L756.9,131.4L758.4,131.3L759.9,131.2L761.4,131.1L762.9,131.0L764.4,130.9L765.9,130.8L767.4,130.7L768.9,130.6L770.4,130.6L771.9,130.5L773.4,130.4L774.9,130.3L776.4,130.2L777.9,130.1L779.4,130.0L780.9,130.0L782.4,129.9L783.9,129.8L785.4,129.7L786.9,129.6L788.4,129.5L789.9,129.5L791.4,129.4L792.9,129.3L794.4,129.2L795.9,129.1L797.4,129.0L798.9,129.0L800.4,128.9L801.9,128.8L803.4,128.7L804.9,128.6L806.4,128.6L807.9,128.5L809.4,128.4L810.9,128.3L812.4,128.3L813.9,128.2L815.4,128.1L816.9,128.0L818.4,127.9L819.9,127.9L821.4,127.8L822.9,127.7L824.4,127.6L825.9,127.6L827.4,127.5L828.9,127.4L830.4,127.3L831.9,127.3L833.4,127.2L834.9,127.1L836.4,127.1L837.9,127.0L839.4,126.9L840.9,126.8L842.4,126.8L843.9,126.7L845.4,126.6L846.9,126.6L848.4,126.5L849.9,126.4L851.4,126.4L852.9,126.3L854.4,126.2L855.9,126.2L857.4,126.1L858.9,126.0L860.4,126.0L861.9,125.9L863.4,125.9L864.9,125.8L866.4,125.7L867.9,125.7L869.4,125.6L870.9,125.5L872.4,125.5L873.9,125.4L875.4,125.4L876.9,125.3L878.4,125.3L879.9,125.2L881.4,125.1L882.9,125.1L884.4,125.0L885.9,125.0L887.4,124.9L888.9,124.8L890.4,124.8L891.9,124.7L893.4,124.7L894.9,124.6L896.4,124.6L897.9,124.5L899.4,124.5L900.9,124.4L902.4,124.3L903.9,124.3L905.4,124.2L906.9,124.2L908.4,124.1L909.9,124.1L911.4,124.0L912.9,124.0L914.4,123.9L915.9,123.9L917.4,123.8L918.9,123.8L920.4,123.7L921.9,123.7L923.4,123.6L924.9,123.5L926.4,123.5L927.9,123.4L929.4,123.4L930.9,123.3L932.4,123.3L933.9,123.2L935.4,123.2L936.9,123.1L938.4,123.1L939.9,123.0L941.4,123.0L942.9,122.9L944.4,122.9L945.9,122.9L947.4,122.8L948.9,122.8L950.4,122.7L951.9,122.7L953.4,122.6L954.9,122.6L956.4,122.5L957.9,122.5L959.4,122.4L960.9,122.4L962.4,122.3L963.9,122.3L965.4,122.2L966.9,122.2L968.4,122.1L969.9,122.1L971.4,122.0L972.9,122.0L974.4,122.0L975.9,121.9L977.4,121.9L978.9,121.8L980.4,121.8L981.9,121.7L983.4,121.7L984.9,121.6L986.4,121.6L987.9,121.6L989.4,121.5L990.9,121.5L992.4,121.4L993.9,121.4L995.4,121.4L996.9,121.3L998.4,121.3L999.9,121.2L1001.4,121.2L1002.9,121.1L1004.4,121.1L1005.9,121.1L1007.4,121.0L1008.9,121.0L1010.4,120.9L1011.9,120.9L1013.4,120.9L1014.9,120.8L1016.4,120.8L1017.9,120.7L1019.4,120.7L1020.9,120.7L1022.4,120.6L1023.9,120.6L1025.4,120.5L1026.9,120.5L1028.4,120.4L1029.9,120.4L1031.4,120.4L1032.9,120.3L1034.4,120.3L1035.9,120.2L1037.4,120.2L1038.9,120.2L1040.4,120.1L1041.9,120.1L1043.4,120.0L1044.9,120.0L1046.4,120.0L1047.9,119.9L1049.4,119.9L1050.9,119.8L1052.4,119.8L1053.9,119.8L1055.4,119.7L1056.9,119.7L1058.4,119.6L1059.9,119.6L1061.4,119.6L1062.9,119.5L1064.4,119.5L1065.9,119.4L1067.4,119.4L1068.9,119.4L1070.4,119.3L1071.9,119.3L1073.4,119.2L1074.9,119.2L1076.4,119.2L1077.9,119.1L1079.4,119.1L1080.9,119.0L1082.4,119.0L1083.9,119.0L1085.4,118.9L1086.9,118.9L1088.4,118.8L1089.9,118.8L1091.4,118.8L1092.9,118.7L1094.4,118.7L1095.9,118.6L1097.4,118.6L1097.6,118.6" fill="none" stroke="#b22222" stroke-width="4.1" stroke-linejoin="round" stroke-dasharray="14.4 6.4" stroke-dashoffset="0.00" clip-path="url(#clipa)"/>
<path d="M120.9,124.2L122.2,124.6L123.4,125.0L124.9,125.3L126.4,125.5L127.9,125.5L129.4,125.3L130.9,125.3L132.4,125.5L133.9,125.7L135.4,125.9L136.9,126.0L138.4,126.0L139.9,126.0L141.4,125.9L142.9,125.9L144.4,126.0L145.9,126.3L147.4,126.7L148.9,127.1L150.4,127.4L151.9,127.4L153.4,127.4L154.9,127.4L156.4,127.5L157.9,127.9L159.2,128.3L160.7,128.6L162.2,128.7L163.7,128.8L165.2,128.9L166.7,129.1L168.2,129.5L169.7,129.6L171.2,129.4L172.7,129.1L174.2,128.8L175.7,128.6L177.2,128.6L178.7,128.7L180.2,128.9L181.7,129.2L182.9,129.7L184.2,130.1L185.7,130.2L187.2,130.4L188.7,130.5L190.2,130.7L191.7,130.9L193.2,131.1L194.7,131.2L196.2,131.2L197.7,131.3L199.2,131.4L200.7,131.4L202.2,131.5L203.7,131.7L205.2,131.9L206.4,132.4L207.7,132.9L208.9,133.6L210.2,134.3L211.4,134.8L212.9,135.2L214.4,135.5L215.9,135.5L217.4,135.5L218.9,135.6L220.4,135.7L221.9,135.9L223.4,136.0L224.9,136.1L226.4,136.1L227.9,136.0L229.4,135.8L230.9,135.5L232.4,135.5L233.9,135.7L235.4,136.1L236.7,136.8L237.9,137.5L239.2,138.0L240.4,138.5L241.9,138.6L243.4,138.4L244.9,138.3L246.4,138.3L247.9,138.5L249.4,138.9L250.9,139.1L252.4,139.2L253.9,139.4L255.4,139.7L256.6,140.3L257.9,141.1L259.1,141.8L260.4,142.5L261.6,143.1L262.9,143.5L264.1,144.0L265.4,144.5L266.6,145.1L267.9,145.6L269.1,146.4L270.4,147.1L271.6,147.7L272.9,148.2L274.1,148.6L275.6,148.7L277.1,148.6L278.4,148.1L279.6,147.5L280.9,147.0L282.1,146.4L283.4,146.0L284.9,146.0L286.4,146.0L287.9,145.8L289.1,145.4L290.4,144.5L291.6,143.6L292.9,143.1L294.4,142.9L295.9,143.2L297.1,143.7L298.4,144.5L299.6,145.4L300.9,146.3L302.1,147.1L303.4,147.8L304.6,148.7L305.9,149.6L307.1,150.6L308.1,151.4L309.1,152.3L310.1,153.2L311.4,154.0L312.6,154.7L313.9,155.4L315.1,156.1L316.4,156.7L317.6,157.4L318.9,157.9L320.4,158.0L321.9,157.8L323.1,157.4L324.4,156.9L325.6,156.5L327.1,156.3L328.6,156.3L330.1,156.5L331.6,156.6L333.1,156.6L334.6,156.7L336.1,157.0L337.4,157.5L338.6,158.3L339.9,159.1L341.1,159.8L342.4,160.5L343.6,161.0L345.1,161.4L346.6,161.6L348.1,161.8L349.6,162.0L351.1,162.3L352.6,162.7L354.1,163.0L355.4,163.4L356.6,163.8L357.9,164.3L359.1,164.9L360.4,165.5L361.6,166.0L362.9,166.4L364.4,166.7L365.9,166.8L367.4,166.9L368.9,166.9L370.4,167.0L371.9,167.1L373.4,167.1L374.9,166.9L376.4,166.8L377.9,166.6L379.4,166.3L380.9,166.1L382.4,166.0L383.9,166.2L385.4,166.4L386.9,166.6L388.4,166.7L389.9,166.3L391.1,165.9L392.4,165.3L393.6,164.7L394.9,164.0L396.1,163.4L397.4,162.9L398.9,162.6L400.4,162.7L401.9,163.0L403.1,163.4L404.6,163.6L406.1,163.8L407.6,163.7L409.1,163.5L410.6,163.3L412.1,163.0L413.6,162.6L415.1,162.2L416.4,161.8L417.6,161.4L418.9,161.0L420.1,160.4L421.4,159.6L422.6,158.8L423.9,158.0L425.1,157.0L426.4,156.3L427.6,155.9L429.1,155.7L430.6,155.8L432.1,156.1L433.6,156.4L435.1,156.6L436.6,156.7L438.1,156.6L439.6,156.4L441.1,156.1L442.6,156.1L444.1,156.2L445.6,156.3L447.1,156.5L448.6,156.5L450.1,156.4L451.6,156.5L453.1,156.8L454.6,157.1L455.9,157.5L457.1,158.2L458.4,158.6L459.6,159.0L461.1,159.3L462.6,159.2L464.1,159.3L465.6,159.4L467.1,159.3L468.6,159.2L470.1,159.2L471.6,159.5L472.9,160.1L474.1,160.8L475.4,161.4L476.9,161.8L478.4,161.7L479.9,161.5L481.4,161.3L482.9,161.1L484.4,161.0L485.9,161.1L487.4,161.2L488.9,161.4L490.4,161.5L491.9,161.6L493.4,161.6L494.9,161.7L496.4,161.7L497.9,161.7L499.4,161.7L500.9,161.3L502.1,160.9L503.6,160.5L505.1,160.1L506.6,160.1L508.1,160.2L509.6,160.0L511.1,159.8L512.6,159.8L514.1,159.8L515.6,160.0L517.1,160.2L518.6,160.3L520.1,160.4L521.6,160.5L523.1,160.7L524.6,160.8L526.1,160.9L527.6,160.8L529.1,160.7L530.6,160.6L532.1,160.3L533.6,160.1L535.1,159.9L536.6,159.6L538.1,159.2L539.4,158.8L540.6,158.3L541.9,157.7L543.1,157.3L544.6,156.9L546.1,156.7L547.6,156.5L549.1,156.4L550.6,156.3L552.1,156.3L553.6,156.2L555.1,156.1L556.6,156.1L558.1,156.0L559.6,155.8L561.1,155.7L562.6,155.5L564.1,155.2L565.6,155.0L567.1,154.7L568.6,154.4L570.1,154.2L571.6,153.9L573.1,153.7L574.6,153.5L576.1,153.2L577.6,153.0L579.1,152.9L580.6,152.7L582.1,152.5L583.6,152.3L585.1,152.1L586.6,151.8L588.1,151.6L589.6,151.4L591.1,151.1L592.6,150.7L594.1,150.4L595.6,150.0L597.1,149.6L598.6,149.2L600.1,148.9L601.6,148.7L603.1,148.5L604.6,148.4L606.1,148.2L607.6,148.2L609.1,148.1L610.6,148.0L612.1,147.9L613.6,147.9L615.1,147.8L616.6,147.7L618.1,147.6L619.6,147.5L621.1,147.4L622.6,147.3L624.1,147.1L625.6,147.0L627.1,146.8L628.6,146.6L630.1,146.5L631.6,146.3L633.1,146.1L634.6,145.9L636.1,145.7L637.6,145.6L639.1,145.4L640.6,145.2L642.1,145.0L643.6,144.9L645.1,144.7L646.6,144.5L648.1,144.3L649.6,144.1L651.1,143.9L652.6,143.7L654.1,143.5L655.6,143.3L657.1,143.2L658.6,143.1L660.1,143.0L661.6,142.9L663.1,142.8L664.6,142.8L666.1,142.7L667.6,142.7L669.1,142.6L670.6,142.6L672.1,142.5L673.6,142.5L675.1,142.4L676.6,142.4L678.1,142.4L679.6,142.3L681.1,142.3L682.6,142.2L684.1,142.2L685.6,142.2L687.1,142.1L688.6,142.1L690.1,142.0L691.6,142.0L693.1,141.9L694.6,141.9L696.1,141.8L697.6,141.7L699.1,141.6L700.6,141.6L702.1,141.4L703.6,141.3L705.1,141.1L706.6,140.9L708.1,140.7L709.6,140.5L711.1,140.3L712.6,140.0L714.1,139.8L715.6,139.6L717.1,139.4L718.6,139.2L720.1,139.0L721.6,138.8L723.1,138.6L724.6,138.5L726.1,138.3L727.6,138.1L729.1,138.0L730.6,137.8L732.1,137.6L733.6,137.4L735.1,137.3L736.6,137.1L738.1,137.0L739.6,136.8L741.1,136.6L742.6,136.5L744.1,136.3L745.6,136.2L747.1,136.0L748.6,135.9L750.1,135.8L751.6,135.6L753.1,135.5L754.6,135.4L756.1,135.3L757.6,135.2L759.1,135.1L760.6,135.0L762.1,134.9L763.6,134.8L765.1,134.7L766.6,134.6L768.1,134.5L769.6,134.4L771.1,134.3L772.6,134.3L774.1,134.2L775.6,134.1L777.1,134.0L778.6,134.0L780.1,133.9L781.6,133.8L783.1,133.8L784.6,133.7L786.1,133.6L787.6,133.6L789.1,133.5L790.6,133.4L792.1,133.4L793.6,133.3L795.1,133.2L796.6,133.2L798.1,133.1L799.6,133.0L801.1,132.9L802.6,132.9L804.1,132.8L805.6,132.7L807.1,132.6L808.6,132.6L810.1,132.5L811.6,132.4L813.1,132.3L814.6,132.3L816.1,132.2L817.6,132.1L819.1,132.0L820.6,132.0L822.1,131.9L823.6,131.8L825.1,131.7L826.6,131.7L828.1,131.6L829.6,131.5L831.1,131.4L832.6,131.4L834.1,131.3L835.6,131.2L837.1,131.1L838.6,131.1L840.1,131.0L841.6,130.9L843.1,130.8L844.6,130.8L846.1,130.7L847.6,130.6L849.1,130.5L850.6,130.5L852.1,130.4L853.6,130.3L855.1,130.2L856.6,130.2L858.1,130.1L859.6,130.0L861.1,129.9L862.6,129.9L864.1,129.8L865.6,129.7L867.1,129.6L868.6,129.6L870.1,129.5L871.6,129.4L873.1,129.4L874.6,129.3L876.1,129.2L877.6,129.1L879.1,129.1L880.6,129.0L882.1,128.9L883.6,128.9L885.1,128.8L886.6,128.7L888.1,128.6L889.6,128.6L891.1,128.5L892.6,128.4L894.1,128.4L895.6,128.3L897.1,128.2L898.6,128.1L900.1,128.1L901.6,128.0L903.1,127.9L904.6,127.9L906.1,127.8L907.6,127.7L909.1,127.6L910.6,127.6L912.1,127.5L913.6,127.4L915.1,127.3L916.6,127.3L918.1,127.2L919.6,127.1L921.1,127.0L922.6,126.9L924.1,126.9L925.6,126.8L927.1,126.7L928.6,126.6L930.1,126.5L931.6,126.5L933.1,126.4L934.6,126.3L936.1,126.2L937.6,126.1L939.1,126.0L940.6,126.0L942.1,125.9L943.6,125.8L945.1,125.7L946.6,125.6L948.1,125.5L949.6,125.4L951.1,125.3L952.6,125.2L954.1,125.1L955.6,125.1L957.1,125.0L958.6,124.9L960.1,124.8L961.6,124.7L963.1,124.6L964.6,124.5L966.1,124.4L967.6,124.3L969.1,124.2L970.6,124.1L972.1,124.0L973.6,123.9L975.1,123.8L976.6,123.7L978.1,123.6L979.6,123.5L981.1,123.3L982.6,123.2L984.1,123.1L985.6,123.0L987.1,122.9L988.6,122.8L990.1,122.7L991.6,122.6L993.1,122.5L994.6,122.4L996.1,122.3L997.6,122.2L999.1,122.1L1000.6,122.0L1002.1,121.8L1003.6,121.7L1005.1,121.6L1006.6,121.5L1008.1,121.4L1009.6,121.2L1011.1,121.1L1012.6,121.0L1014.1,120.8L1015.6,120.7L1017.1,120.6L1018.6,120.5L1020.1,120.3L1021.6,120.2L1023.1,120.1L1024.7,119.9L1026.2,119.8L1027.7,119.7L1029.2,119.5L1030.7,119.4L1032.2,119.3L1033.7,119.1L1035.2,119.0L1036.7,118.9L1038.2,118.8L1039.7,118.7L1041.2,118.6L1042.7,118.5L1044.2,118.4L1045.7,118.3L1047.2,118.2L1048.7,118.1L1050.2,118.0L1051.7,117.9L1053.2,117.8L1054.7,117.7L1056.2,117.7L1057.7,117.6L1059.2,117.5L1060.7,117.4L1062.2,117.4L1063.7,117.3L1065.2,117.2L1066.7,117.1L1068.2,117.1L1069.7,117.0L1071.2,116.9L1072.7,116.9L1074.2,116.8L1075.7,116.7L1077.2,116.7L1078.7,116.6L1080.2,116.6L1081.7,116.5L1083.2,116.4L1084.7,116.4L1086.2,116.3L1087.7,116.3L1089.2,116.2L1090.7,116.2L1092.2,116.1L1093.7,116.1L1095.2,116.1L1096.7,116.0L1097.6,116.0" fill="none" stroke="#b22222" stroke-width="4.1" stroke-linejoin="round" clip-path="url(#clipa)"/>
<path d="M120.9,460.0L122.4,460.2L123.9,460.3L125.4,460.5L126.9,460.7L128.4,460.9L129.9,461.0L131.4,461.2L132.9,461.4L134.4,461.6L135.9,461.7L137.4,461.9L138.9,462.1L140.4,462.3L141.9,462.4L143.4,462.6L144.9,462.8L146.4,462.9L147.9,463.1L149.4,463.3L150.9,463.5L152.4,463.6L153.9,463.8L155.4,464.0L156.9,464.1L158.4,464.3L159.9,464.5L161.4,464.7L162.9,464.8L164.4,465.0L165.9,465.2L167.4,465.3L168.9,465.5L170.4,465.6L171.9,465.8L173.4,466.0L174.9,466.1L176.4,466.3L177.9,466.4L179.4,466.6L180.9,466.8L182.4,466.9L183.9,467.1L185.4,467.3L186.9,467.4L188.4,467.6L189.9,467.8L191.4,467.9L192.9,468.1L194.4,468.3L195.9,468.5L197.4,468.7L198.9,468.9L200.4,469.1L201.9,469.2L203.4,469.5L204.9,469.7L206.4,469.9L207.9,470.1L209.4,470.3L210.9,470.5L212.4,470.7L213.9,471.0L215.4,471.2L216.9,471.4L218.4,471.6L219.9,471.9L221.4,472.1L222.9,472.4L224.4,472.6L225.9,472.8L227.4,473.1L228.9,473.3L230.4,473.6L231.9,473.8L233.4,474.0L234.9,474.2L236.4,474.4L237.9,474.6L239.4,474.8L240.9,475.0L242.4,475.3L243.9,475.6L245.4,475.9L246.9,476.2L248.4,476.6L249.9,477.0L251.2,477.4L252.4,478.0L253.7,478.7L254.9,479.5L256.1,480.4L257.1,481.2L258.1,482.1L259.1,483.4L259.9,484.7L260.6,486.1L261.4,487.6L262.1,489.0L262.9,490.4L263.6,491.5L264.6,492.8L265.6,494.2L266.6,495.5L267.6,496.4L268.9,497.0L270.4,496.8L271.6,496.4L272.9,495.9L274.1,495.3L275.4,494.8L276.6,494.2L277.9,493.5L279.1,492.8L280.4,492.1L281.6,491.5L282.9,491.1L284.4,491.0L285.9,491.0L287.4,491.0L288.9,491.0L290.4,491.0L291.9,491.0L293.4,491.0L294.9,491.0L296.4,491.0L297.9,491.2L299.4,491.5L300.6,491.9L301.9,492.4L303.1,492.9L304.4,493.4L305.6,493.9L306.9,494.4L308.1,495.0L309.4,495.6L310.6,496.4L311.9,497.1L313.1,497.8L314.4,498.4L315.6,498.9L316.9,499.3L318.1,499.6L319.6,500.0L321.1,500.4L322.6,500.7L324.1,501.1L325.6,501.4L327.1,501.7L328.6,502.0L330.1,502.3L331.6,502.7L333.1,502.9L334.6,503.2L336.1,503.5L337.6,503.9L339.1,504.3L340.4,504.6L341.6,505.0L342.9,505.5L344.1,506.1L345.4,507.1L346.4,508.4L347.1,509.8L347.9,511.3L348.6,513.0L349.1,514.2L349.6,515.7L350.1,517.1L350.6,518.6L351.1,519.9L351.6,521.2L352.1,522.6L352.6,523.9L353.4,525.6L354.1,526.8L355.1,528.0L356.1,529.2L357.1,530.1L358.4,530.7L359.9,530.6L361.1,529.7L362.1,528.7L363.1,527.6L364.1,526.4L365.1,525.0L365.9,523.7L366.6,522.3L367.4,521.1L368.4,519.7L369.4,518.4L370.4,517.2L371.4,516.3L372.6,515.7L373.9,515.3L375.1,514.9L376.6,514.6L378.1,514.5L379.6,514.5L381.1,514.6L382.6,514.7L384.1,514.8L385.6,514.9L387.1,515.0L388.6,515.2L390.1,515.4L391.6,515.8L392.9,516.2L394.1,516.8L395.1,518.3L395.9,519.9L396.6,521.6L397.4,523.0L398.1,524.3L398.9,525.7L399.6,527.0L400.4,528.3L401.1,529.7L401.9,531.1L402.6,532.4L403.4,533.9L404.1,535.3L404.9,536.9L405.6,538.5L406.4,540.2L407.1,542.0L407.6,543.3L408.1,544.6L408.6,546.1L409.1,547.6L409.6,549.4L410.1,551.3L410.6,553.8L410.9,555.2L411.1,556.7L411.4,558.3L411.6,559.8L411.9,561.4L412.1,562.9L412.4,564.5L412.6,566.0L412.9,567.6L413.1,569.3L413.4,570.9L413.6,572.6L413.9,574.2L414.1,575.9L414.4,577.6L414.6,579.5L414.9,581.6L415.1,583.6L415.4,585.2L415.9,586.7L416.6,588.0L417.9,587.7L418.9,586.4L419.6,585.1L420.4,584.0L421.1,582.6L421.9,581.2L422.6,579.5L423.4,577.7L423.9,576.5L424.4,575.1L424.9,573.7L425.4,572.1L425.9,570.4L426.4,568.5L426.9,566.6L427.4,564.4L427.9,561.8L428.1,560.4L428.4,559.0L428.6,557.6L428.9,556.2L429.1,554.8L429.4,553.5L429.9,551.1L430.4,549.1L430.9,547.3L431.4,545.6L431.9,543.9L432.4,542.4L432.9,540.9L433.4,539.5L433.9,538.2L434.4,536.8L434.9,535.6L435.4,534.4L436.1,532.6L436.9,530.9L437.6,529.3L438.4,527.8L439.1,526.3L439.9,524.8L440.6,523.3L441.4,521.9L442.1,520.6L442.9,519.4L443.9,518.1L444.9,517.1L445.9,516.2L447.1,515.3L448.4,514.5L449.6,513.9L450.9,513.5L452.1,513.2L453.6,512.8L455.1,512.5L456.6,512.4L458.1,512.4L459.6,512.5L461.1,512.7L462.6,513.0L464.1,513.3L465.6,513.7L466.9,514.6L467.9,515.5L468.9,516.5L469.9,517.3L471.1,518.4L472.1,519.3L473.1,520.1L474.4,520.8L475.9,520.8L477.4,520.6L478.9,520.2L480.4,519.8L481.9,519.5L483.4,519.4L484.9,519.3L486.4,519.2L487.9,519.1L489.4,519.0L490.9,518.9L492.4,518.7L493.9,518.5L495.4,518.3L496.9,518.0L498.4,517.8L499.9,517.5L501.4,517.3L502.9,517.0L504.4,516.7L505.9,516.4L507.4,516.1L508.9,515.8L510.4,515.6L511.9,515.4L513.4,515.3L514.9,515.2L516.4,515.1L517.9,515.0L519.4,515.0L520.9,514.9L522.4,514.8L523.9,514.8L525.4,514.8L526.9,514.7L528.4,514.7L529.9,514.7L531.4,514.8L532.9,515.2L534.1,515.6L535.4,516.1L536.6,516.6L537.9,517.1L539.1,517.5L540.6,517.9L542.1,518.0L543.6,517.9L545.1,517.8L546.6,517.6L548.1,517.4L549.6,517.1L551.1,516.9L552.6,516.7L554.1,516.6L555.6,516.4L557.1,516.3L558.6,516.1L560.1,516.0L561.6,515.9L563.1,515.8L564.6,515.8L566.1,516.0L567.4,516.5L568.6,517.3L569.9,518.2L570.9,519.1L571.9,520.3L572.9,521.7L573.6,522.8L574.4,524.0L575.1,525.2L575.9,526.5L576.6,527.9L577.4,529.3L578.1,530.8L578.9,532.5L579.6,534.2L580.4,536.0L580.9,537.3L581.4,538.7L581.9,540.2L582.4,541.7L582.9,543.3L583.4,544.8L583.9,546.4L584.4,548.0L584.9,549.5L585.4,551.1L585.9,552.8L586.4,554.4L586.9,556.1L587.4,557.9L587.9,559.6L588.4,561.5L588.9,563.4L589.4,565.4L589.9,567.4L590.4,569.4L590.9,571.3L591.4,573.4L591.9,575.7L592.4,577.8L592.9,579.1L593.9,579.9L595.1,580.3L596.4,579.7L597.4,578.1L597.9,575.5L598.1,573.8L598.4,572.1L598.6,570.4L598.9,568.8L599.1,567.5L599.6,565.0L600.1,562.7L600.6,560.3L601.1,557.8L601.6,555.2L601.9,553.9L602.1,552.4L602.4,550.8L602.6,549.1L602.9,547.3L603.1,545.5L603.4,543.7L603.6,542.1L603.9,540.6L604.1,539.2L604.4,537.9L604.6,536.6L605.1,534.2L605.6,531.9L606.1,529.8L606.6,527.9L607.1,526.2L607.6,524.7L608.1,523.2L608.6,521.9L609.1,520.6L609.9,518.9L610.6,517.3L611.4,516.0L612.1,514.8L612.9,513.7L613.9,512.3L614.9,511.1L615.9,510.1L616.9,509.2L618.1,508.2L619.4,507.3L620.6,506.5L621.9,505.8L623.1,505.2L624.4,504.8L625.6,504.4L627.1,504.0L628.6,503.6L630.1,503.2L631.6,502.9L633.1,502.5L634.6,502.0L635.9,501.7L637.1,501.3L638.4,501.0L639.9,500.5L641.4,500.1L642.9,499.7L644.4,499.3L645.9,499.0L647.4,498.6L648.9,498.3L650.4,498.0L651.9,497.7L653.4,497.4L654.9,497.1L656.4,496.8L657.9,496.5L659.4,496.3L660.9,496.0L662.4,495.7L663.9,495.5L665.4,495.4L666.9,495.3L668.4,495.3L669.9,495.4L671.4,495.4L672.9,495.5L674.4,495.8L675.6,496.2L676.9,496.7L678.1,497.0L679.6,497.4L681.1,497.8L682.6,498.2L684.1,498.4L685.6,498.4L687.1,498.0L688.4,497.6L689.6,497.0L690.9,496.4L692.1,495.9L693.4,495.5L694.6,494.9L695.9,494.4L697.1,493.9L698.4,493.5L699.6,493.1L701.1,492.7L702.6,492.4L704.1,492.2L705.6,491.9L707.1,491.6L708.6,491.4L710.1,491.2L711.6,491.0L713.1,490.8L714.6,490.6L716.1,490.5L717.6,490.3L719.1,490.1L720.6,489.9L722.1,489.7L723.6,489.6L725.1,489.4L726.6,489.3L728.1,489.1L729.6,489.0L731.1,488.8L732.6,488.7L734.1,488.5L735.6,488.4L737.1,488.3L738.6,488.1L740.1,488.0L741.6,487.8L743.1,487.7L744.6,487.5L746.1,487.4L747.6,487.2L749.1,487.1L750.6,486.9L752.1,486.8L753.6,486.7L755.1,486.6L756.6,486.5L758.1,486.4L759.6,486.4L761.1,486.4L762.6,486.6L764.1,486.8L765.6,487.1L767.1,487.4L768.6,487.5L770.1,487.6L771.6,487.5L773.1,487.3L774.6,487.0L776.1,486.7L777.6,486.4L779.1,486.1L780.6,485.9L782.1,485.7L783.6,485.6L785.1,485.4L786.6,485.3L788.1,485.2L789.6,485.1L791.1,484.9L792.6,484.8L794.1,484.7L795.6,484.5L797.1,484.4L798.6,484.2L800.1,484.0L801.6,483.8L803.1,483.5L804.6,483.2L806.1,482.9L807.6,482.6L809.1,482.3L810.6,482.0L812.1,481.7L813.6,481.3L815.1,481.0L816.6,480.5L817.9,480.1L819.1,479.7L820.4,479.3L821.6,478.9L823.1,478.6L824.6,478.4L826.1,478.5L827.6,478.6L829.1,479.0L830.6,479.3L832.1,479.8L833.4,480.1L834.6,480.7L835.9,481.4L837.1,482.1L838.4,482.7L839.9,483.0L841.4,482.9L842.9,482.6L844.1,482.2L845.4,481.8L846.6,481.4L847.9,480.8L849.1,480.1L850.4,479.5L851.6,479.1L853.1,478.8L854.6,478.6L856.1,478.5L857.6,478.3L859.1,478.2L860.6,478.1L862.1,478.0L863.6,477.9L865.1,477.9L866.6,477.8L868.1,477.7L869.6,477.5L871.1,477.4L872.6,477.2L874.1,477.1L875.6,476.9L877.1,476.8L878.6,476.6L880.1,476.5L881.6,476.3L883.1,476.2L884.6,476.0L886.1,475.9L887.6,475.8L889.1,475.6L890.6,475.5L892.1,475.3L893.6,475.2L895.1,475.1L896.6,475.0L898.1,474.8L899.6,474.7L901.1,474.6L902.6,474.5L904.1,474.4L905.6,474.3L907.1,474.2L908.6,474.1L910.1,474.1L911.6,474.0L913.1,473.9L914.6,473.8L916.1,473.7L917.6,473.6L919.1,473.6L920.6,473.5L922.1,473.4L923.6,473.3L925.1,473.2L926.6,473.2L928.1,473.1L929.6,473.0L931.1,472.9L932.6,472.8L934.1,472.8L935.6,472.7L937.1,472.6L938.6,472.5L940.1,472.4L941.6,472.3L943.1,472.2L944.6,472.0L946.1,471.9L947.6,471.8L949.1,471.6L950.6,471.5L952.1,471.4L953.6,471.2L955.1,471.2L956.6,471.1L958.1,471.0L959.6,471.0L961.1,471.1L962.6,471.2L964.1,471.5L965.6,471.9L967.1,472.2L968.6,472.5L970.1,473.0L971.4,473.3L972.9,473.7L974.4,474.0L975.9,473.9L977.4,473.6L978.6,473.2L979.9,472.8L981.1,472.3L982.4,471.9L983.6,471.4L984.9,470.9L986.1,470.3L987.4,469.8L988.6,469.4L989.9,469.0L991.4,468.7L992.9,468.4L994.4,468.1L995.9,467.9L997.4,467.6L998.9,467.4L1000.4,467.2L1001.9,467.0L1003.4,466.8L1004.9,466.6L1006.4,466.4L1007.9,466.3L1009.4,466.1L1010.9,465.9L1012.4,465.7L1013.9,465.5L1015.4,465.4L1016.9,465.2L1018.4,465.0L1019.9,464.9L1021.4,464.7L1022.9,464.6L1024.4,464.4L1025.9,464.3L1027.4,464.1L1028.9,464.0L1030.4,463.8L1031.9,463.7L1033.4,463.6L1034.9,463.4L1036.4,463.3L1037.9,463.2L1039.4,463.0L1040.9,462.9L1042.4,462.8L1043.9,462.7L1045.4,462.6L1046.9,462.5L1048.4,462.4L1049.9,462.3L1051.4,462.2L1052.9,462.1L1054.4,462.0L1055.9,461.9L1057.4,461.8L1058.9,461.7L1060.4,461.6L1061.9,461.5L1063.4,461.4L1064.9,461.3L1066.4,461.2L1067.9,461.1L1069.4,461.0L1070.9,460.9L1072.4,460.9L1073.9,460.8L1075.4,460.7L1076.9,460.6L1078.4,460.5L1079.9,460.5L1081.4,460.4L1082.9,460.3L1084.4,460.2L1085.9,460.1L1087.4,460.1L1088.9,460.0L1090.4,459.9L1091.9,459.9L1093.4,459.8L1094.9,459.7L1096.4,459.7L1097.6,459.6" fill="none" stroke="#008000" stroke-width="4.1" stroke-linejoin="round" clip-path="url(#clipb)"/>
<path d="M120.9,466.8L122.2,467.2L123.4,467.6L124.9,467.9L126.4,468.1L127.9,468.1L129.4,467.9L130.9,467.9L132.4,468.1L133.9,468.3L135.4,468.5L136.9,468.6L138.4,468.6L139.9,468.6L141.4,468.5L142.9,468.5L144.4,468.6L145.9,468.9L147.4,469.3L148.9,469.7L150.4,470.0L151.9,470.0L153.4,470.0L154.9,470.0L156.4,470.1L157.9,470.5L159.2,470.9L160.7,471.2L162.2,471.3L163.7,471.4L165.2,471.5L166.7,471.7L168.2,472.1L169.7,472.2L171.2,472.0L172.7,471.7L174.2,471.4L175.7,471.2L177.2,471.2L178.7,471.3L180.2,471.5L181.7,471.8L182.9,472.3L184.2,472.7L185.7,472.8L187.2,473.0L188.7,473.1L190.2,473.3L191.7,473.5L193.2,473.7L194.7,473.8L196.2,473.8L197.7,473.9L199.2,474.0L200.7,474.0L202.2,474.1L203.7,474.3L205.2,474.5L206.4,475.0L207.7,475.5L208.9,476.2L210.2,476.9L211.4,477.4L212.9,477.8L214.4,478.1L215.9,478.1L217.4,478.1L218.9,478.2L220.4,478.3L221.9,478.5L223.4,478.6L224.9,478.7L226.4,478.7L227.9,478.6L229.4,478.4L230.9,478.1L232.4,478.1L233.9,478.3L235.4,478.7L236.7,479.4L237.9,480.1L239.2,480.6L240.4,481.1L241.9,481.2L243.4,481.0L244.9,480.9L246.4,480.9L247.9,481.1L249.4,481.5L250.9,481.7L252.4,481.8L253.9,482.0L255.4,482.3L256.6,482.9L257.9,483.7L259.1,484.4L260.4,485.1L261.6,485.7L262.9,486.1L264.1,486.6L265.4,487.1L266.6,487.7L267.9,488.2L269.1,489.0L270.4,489.7L271.6,490.3L272.9,490.8L274.1,491.2L275.6,491.3L277.1,491.2L278.4,490.7L279.6,490.1L280.9,489.6L282.1,489.0L283.4,488.6L284.9,488.6L286.4,488.6L287.9,488.4L289.1,488.0L290.4,487.1L291.6,486.2L292.9,485.7L294.4,485.5L295.9,485.8L297.1,486.3L298.4,487.1L299.6,488.0L300.9,488.9L302.1,489.7L303.4,490.4L304.6,491.3L305.9,492.2L307.1,493.2L308.1,494.0L309.1,494.9L310.1,495.8L311.4,496.6L312.6,497.3L313.9,498.0L315.1,498.7L316.4,499.3L317.6,500.0L318.9,500.5L320.4,500.6L321.9,500.4L323.1,500.0L324.4,499.5L325.6,499.1L327.1,498.9L328.6,498.9L330.1,499.1L331.6,499.2L333.1,499.2L334.6,499.3L336.1,499.6L337.4,500.1L338.6,500.9L339.9,501.7L341.1,502.4L342.4,503.1L343.6,503.6L345.1,504.0L346.6,504.2L348.1,504.4L349.6,504.6L351.1,504.9L352.6,505.3L354.1,505.6L355.4,506.0L356.6,506.4L357.9,506.9L359.1,507.5L360.4,508.1L361.6,508.6L362.9,509.0L364.4,509.3L365.9,509.4L367.4,509.5L368.9,509.5L370.4,509.6L371.9,509.7L373.4,509.7L374.9,509.5L376.4,509.4L377.9,509.2L379.4,508.9L380.9,508.7L382.4,508.6L383.9,508.8L385.4,509.0L386.9,509.2L388.4,509.3L389.9,508.9L391.1,508.5L392.4,507.9L393.6,507.3L394.9,506.6L396.1,506.0L397.4,505.5L398.9,505.2L400.4,505.3L401.9,505.6L403.1,506.0L404.6,506.2L406.1,506.4L407.6,506.3L409.1,506.1L410.6,505.9L412.1,505.6L413.6,505.2L415.1,504.8L416.4,504.4L417.6,504.0L418.9,503.6L420.1,503.0L421.4,502.2L422.6,501.4L423.9,500.6L425.1,499.6L426.4,498.9L427.6,498.5L429.1,498.3L430.6,498.4L432.1,498.7L433.6,499.0L435.1,499.2L436.6,499.3L438.1,499.2L439.6,499.0L441.1,498.7L442.6,498.7L444.1,498.8L445.6,498.9L447.1,499.1L448.6,499.1L450.1,499.0L451.6,499.1L453.1,499.4L454.6,499.7L455.9,500.1L457.1,500.8L458.4,501.2L459.6,501.6L461.1,501.9L462.6,501.8L464.1,501.9L465.6,502.0L467.1,501.9L468.6,501.8L470.1,501.8L471.6,502.1L472.9,502.7L474.1,503.4L475.4,504.0L476.9,504.4L478.4,504.3L479.9,504.1L481.4,503.9L482.9,503.7L484.4,503.6L485.9,503.7L487.4,503.8L488.9,504.0L490.4,504.1L491.9,504.2L493.4,504.2L494.9,504.3L496.4,504.3L497.9,504.3L499.4,504.3L500.9,503.9L502.1,503.5L503.6,503.1L505.1,502.7L506.6,502.7L508.1,502.8L509.6,502.6L511.1,502.4L512.6,502.4L514.1,502.4L515.6,502.6L517.1,502.8L518.6,502.9L520.1,503.0L521.6,503.1L523.1,503.3L524.6,503.4L526.1,503.5L527.6,503.4L529.1,503.3L530.6,503.2L532.1,502.9L533.6,502.7L535.1,502.5L536.6,502.2L538.1,501.8L539.4,501.4L540.6,500.9L541.9,500.3L543.1,499.9L544.6,499.5L546.1,499.3L547.6,499.1L549.1,499.0L550.6,498.9L552.1,498.9L553.6,498.8L555.1,498.7L556.6,498.7L558.1,498.6L559.6,498.4L561.1,498.3L562.6,498.1L564.1,497.8L565.6,497.6L567.1,497.3L568.6,497.0L570.1,496.8L571.6,496.5L573.1,496.3L574.6,496.1L576.1,495.8L577.6,495.6L579.1,495.5L580.6,495.3L582.1,495.1L583.6,494.9L585.1,494.7L586.6,494.4L588.1,494.2L589.6,494.0L591.1,493.7L592.6,493.3L594.1,493.0L595.6,492.6L597.1,492.2L598.6,491.8L600.1,491.5L601.6,491.3L603.1,491.1L604.6,491.0L606.1,490.8L607.6,490.8L609.1,490.7L610.6,490.6L612.1,490.5L613.6,490.5L615.1,490.4L616.6,490.3L618.1,490.2L619.6,490.1L621.1,490.0L622.6,489.9L624.1,489.7L625.6,489.6L627.1,489.4L628.6,489.2L630.1,489.1L631.6,488.9L633.1,488.7L634.6,488.5L636.1,488.3L637.6,488.2L639.1,488.0L640.6,487.8L642.1,487.6L643.6,487.5L645.1,487.3L646.6,487.1L648.1,486.9L649.6,486.7L651.1,486.5L652.6,486.3L654.1,486.1L655.6,485.9L657.1,485.8L658.6,485.7L660.1,485.6L661.6,485.5L663.1,485.4L664.6,485.4L666.1,485.3L667.6,485.3L669.1,485.2L670.6,485.2L672.1,485.1L673.6,485.1L675.1,485.0L676.6,485.0L678.1,485.0L679.6,484.9L681.1,484.9L682.6,484.8L684.1,484.8L685.6,484.8L687.1,484.7L688.6,484.7L690.1,484.6L691.6,484.6L693.1,484.5L694.6,484.5L696.1,484.4L697.6,484.3L699.1,484.2L700.6,484.2L702.1,484.0L703.6,483.9L705.1,483.7L706.6,483.5L708.1,483.3L709.6,483.1L711.1,482.9L712.6,482.6L714.1,482.4L715.6,482.2L717.1,482.0L718.6,481.8L720.1,481.6L721.6,481.4L723.1,481.2L724.6,481.1L726.1,480.9L727.6,480.7L729.1,480.6L730.6,480.4L732.1,480.2L733.6,480.0L735.1,479.9L736.6,479.7L738.1,479.6L739.6,479.4L741.1,479.2L742.6,479.1L744.1,478.9L745.6,478.8L747.1,478.6L748.6,478.5L750.1,478.4L751.6,478.2L753.1,478.1L754.6,478.0L756.1,477.9L757.6,477.8L759.1,477.7L760.6,477.6L762.1,477.5L763.6,477.4L765.1,477.3L766.6,477.2L768.1,477.1L769.6,477.0L771.1,476.9L772.6,476.9L774.1,476.8L775.6,476.7L777.1,476.6L778.6,476.6L780.1,476.5L781.6,476.4L783.1,476.4L784.6,476.3L786.1,476.2L787.6,476.2L789.1,476.1L790.6,476.0L792.1,476.0L793.6,475.9L795.1,475.8L796.6,475.8L798.1,475.7L799.6,475.6L801.1,475.5L802.6,475.5L804.1,475.4L805.6,475.3L807.1,475.2L808.6,475.2L810.1,475.1L811.6,475.0L813.1,474.9L814.6,474.9L816.1,474.8L817.6,474.7L819.1,474.6L820.6,474.6L822.1,474.5L823.6,474.4L825.1,474.3L826.6,474.3L828.1,474.2L829.6,474.1L831.1,474.0L832.6,474.0L834.1,473.9L835.6,473.8L837.1,473.7L838.6,473.7L840.1,473.6L841.6,473.5L843.1,473.4L844.6,473.4L846.1,473.3L847.6,473.2L849.1,473.1L850.6,473.1L852.1,473.0L853.6,472.9L855.1,472.8L856.6,472.8L858.1,472.7L859.6,472.6L861.1,472.5L862.6,472.5L864.1,472.4L865.6,472.3L867.1,472.2L868.6,472.2L870.1,472.1L871.6,472.0L873.1,472.0L874.6,471.9L876.1,471.8L877.6,471.7L879.1,471.7L880.6,471.6L882.1,471.5L883.6,471.5L885.1,471.4L886.6,471.3L888.1,471.2L889.6,471.2L891.1,471.1L892.6,471.0L894.1,471.0L895.6,470.9L897.1,470.8L898.6,470.7L900.1,470.7L901.6,470.6L903.1,470.5L904.6,470.5L906.1,470.4L907.6,470.3L909.1,470.2L910.6,470.2L912.1,470.1L913.6,470.0L915.1,469.9L916.6,469.9L918.1,469.8L919.6,469.7L921.1,469.6L922.6,469.5L924.1,469.5L925.6,469.4L927.1,469.3L928.6,469.2L930.1,469.1L931.6,469.1L933.1,469.0L934.6,468.9L936.1,468.8L937.6,468.7L939.1,468.6L940.6,468.6L942.1,468.5L943.6,468.4L945.1,468.3L946.6,468.2L948.1,468.1L949.6,468.0L951.1,467.9L952.6,467.8L954.1,467.7L955.6,467.7L957.1,467.6L958.6,467.5L960.1,467.4L961.6,467.3L963.1,467.2L964.6,467.1L966.1,467.0L967.6,466.9L969.1,466.8L970.6,466.7L972.1,466.6L973.6,466.5L975.1,466.4L976.6,466.3L978.1,466.2L979.6,466.1L981.1,465.9L982.6,465.8L984.1,465.7L985.6,465.6L987.1,465.5L988.6,465.4L990.1,465.3L991.6,465.2L993.1,465.1L994.6,465.0L996.1,464.9L997.6,464.8L999.1,464.7L1000.6,464.6L1002.1,464.4L1003.6,464.3L1005.1,464.2L1006.6,464.1L1008.1,464.0L1009.6,463.8L1011.1,463.7L1012.6,463.6L1014.1,463.4L1015.6,463.3L1017.1,463.2L1018.6,463.1L1020.1,462.9L1021.6,462.8L1023.1,462.7L1024.7,462.5L1026.2,462.4L1027.7,462.3L1029.2,462.1L1030.7,462.0L1032.2,461.9L1033.7,461.7L1035.2,461.6L1036.7,461.5L1038.2,461.4L1039.7,461.3L1041.2,461.2L1042.7,461.1L1044.2,461.0L1045.7,460.9L1047.2,460.8L1048.7,460.7L1050.2,460.6L1051.7,460.5L1053.2,460.4L1054.7,460.3L1056.2,460.3L1057.7,460.2L1059.2,460.1L1060.7,460.0L1062.2,460.0L1063.7,459.9L1065.2,459.8L1066.7,459.7L1068.2,459.7L1069.7,459.6L1071.2,459.5L1072.7,459.5L1074.2,459.4L1075.7,459.3L1077.2,459.3L1078.7,459.2L1080.2,459.2L1081.7,459.1L1083.2,459.0L1084.7,459.0L1086.2,458.9L1087.7,458.9L1089.2,458.8L1090.7,458.8L1092.2,458.7L1093.7,458.7L1095.2,458.7L1096.7,458.6L1097.6,458.6" fill="none" stroke="#b22222" stroke-width="4.1" stroke-linejoin="round" clip-path="url(#clipb)"/>
<path d="M120.9,465.0L122.4,465.1L123.9,465.2L125.4,465.3L126.9,465.4L128.4,465.4L129.9,465.5L131.4,465.6L132.9,465.7L134.4,465.8L135.9,465.9L137.4,466.0L138.9,466.1L140.4,466.2L141.9,466.3L143.4,466.4L144.9,466.5L146.4,466.6L147.9,466.7L149.4,466.8L150.9,466.9L152.4,467.0L153.9,467.1L155.4,467.2L156.9,467.3L158.4,467.4L159.9,467.5L161.4,467.6L162.9,467.7L164.4,467.8L165.9,467.9L167.4,468.0L168.9,468.1L170.4,468.2L171.9,468.3L173.4,468.4L174.9,468.5L176.4,468.7L177.9,468.8L179.4,468.9L180.9,469.0L182.4,469.1L183.9,469.2L185.4,469.3L186.9,469.4L188.4,469.6L189.9,469.7L191.4,469.8L192.9,469.9L194.4,470.0L195.9,470.2L197.4,470.3L198.9,470.4L200.4,470.5L201.9,470.7L203.4,470.8L204.9,470.9L206.4,471.1L207.9,471.2L209.4,471.4L210.9,471.5L212.4,471.7L213.9,471.8L215.4,472.0L216.9,472.1L218.4,472.3L219.9,472.4L221.4,472.6L222.9,472.7L224.4,472.9L225.9,473.0L227.4,473.2L228.9,473.4L230.4,473.5L231.9,473.7L233.4,473.8L234.9,474.0L236.4,474.2L237.9,474.3L239.4,474.5L240.9,474.6L242.4,474.8L243.9,474.9L245.4,475.1L246.9,475.2L248.4,475.3L249.9,475.5L251.4,475.6L252.9,475.8L254.4,475.9L255.9,476.0L257.4,476.1L258.9,476.3L260.4,476.4L261.9,476.5L263.4,476.6L264.9,476.8L266.4,476.9L267.9,477.0L269.4,477.1L270.9,477.2L272.4,477.3L273.9,477.5L275.4,477.6L276.9,477.7L278.4,477.9L279.9,478.0L281.4,478.1L282.9,478.3L284.4,478.4L285.9,478.6L287.4,478.7L288.9,478.9L290.4,479.0L291.9,479.2L293.4,479.4L294.9,479.6L296.4,479.7L297.9,479.9L299.4,480.1L300.9,480.3L302.4,480.5L303.9,480.7L305.4,480.9L306.9,481.2L308.4,481.4L309.9,481.6L311.4,481.9L312.9,482.1L314.4,482.4L315.9,482.7L317.4,483.0L318.9,483.3L320.4,483.6L321.9,483.9L323.4,484.4L324.6,484.7L325.9,485.1L327.1,485.5L328.4,486.0L329.6,486.4L330.9,486.8L332.1,487.2L333.4,487.6L334.6,488.1L335.9,488.6L337.1,489.1L338.4,489.7L339.6,490.3L340.9,491.0L342.1,491.9L343.4,492.8L344.4,493.8L345.4,494.8L346.4,496.0L347.4,497.4L348.1,498.9L348.9,500.7L349.4,502.1L349.9,503.5L350.4,505.0L350.9,506.6L351.4,508.6L351.9,510.7L352.4,512.8L352.9,514.8L353.4,516.4L353.9,517.8L354.4,519.2L354.9,520.5L355.4,521.8L355.9,523.1L356.6,524.6L357.4,525.7L358.6,526.1L359.6,525.1L360.4,523.9L361.1,522.3L361.9,520.7L362.6,519.2" fill="none" stroke="#008000" stroke-width="4.1" stroke-linejoin="round" stroke-dasharray="14.4 6.4" stroke-dashoffset="0.00" clip-path="url(#clipb)"/>
<path d="M362.6,519.2L363.4,517.5L363.9,516.2L364.4,514.9L364.9,513.6L365.4,512.3L366.1,510.7L366.9,509.2L367.6,507.7L368.4,506.3L369.1,505.1L370.1,503.7L371.1,502.6L372.1,501.6L373.4,500.7L374.6,500.2L376.1,499.8L377.6,499.6L379.1,499.4L380.6,499.4L382.1,499.8L383.4,500.3L384.6,501.0L385.9,501.8L387.1,502.6L388.1,503.4L389.1,504.5L390.1,505.8L391.1,507.1L392.1,508.5L393.1,509.8L394.1,511.1L395.1,512.4L396.1,513.8L396.9,515.0L397.6,516.5L398.4,518.1L398.9,519.3L399.4,520.6L399.9,522.0L400.4,523.4L400.9,524.9L401.4,526.5L401.9,528.1L402.4,529.8L402.9,531.7L403.4,533.8L403.9,536.0L404.4,538.4L404.6,539.9L404.9,541.5L405.1,543.3L405.4,545.2L405.6,547.1L405.9,549.0L406.1,550.9L406.4,552.7L406.6,554.5L406.9,556.4L407.1,558.3L407.4,560.1L407.6,561.9L407.9,563.7L408.1,565.3L408.4,566.8L408.6,568.2L408.9,569.6L409.1,570.9L409.4,572.2L409.9,574.7L410.4,577.0L410.9,579.2L411.4,581.3L411.9,583.6L412.4,585.9L412.9,587.9L413.4,589.2L414.6,588.8L415.4,587.3L416.1,585.7L416.6,584.3L417.1,582.7L417.6,580.9L418.1,579.0L418.6,577.2L419.1,575.5L419.6,573.8L420.1,572.1L420.6,570.4L421.1,568.7L421.6,567.1L422.1,565.6L422.6,564.1L423.1,562.8L423.6,561.5L424.1,560.2L424.6,558.9L425.1,557.6L425.6,556.2L426.1,554.7L426.6,553.1L427.1,551.5L427.6,549.9L428.1,548.2L428.6,546.6L429.1,544.9L429.6,543.2L430.1,541.5L430.6,539.7L431.1,537.9L431.6,536.0L432.1,534.1L432.6,532.3L433.1,530.6L433.6,529.0L434.1,527.6L434.6,526.2L435.1,524.9L435.6,523.7L436.1,522.5L436.9,520.8L437.6,519.2L438.4,517.7L439.1,516.5L439.9,515.2L440.6,514.1" fill="none" stroke="#008000" stroke-width="4.1" stroke-linejoin="round" stroke-dasharray="14.4 6.4" stroke-dashoffset="7.00" clip-path="url(#clipb)"/>
<path d="M440.6,514.1L441.4,513.0L442.4,511.7L443.4,510.5L444.4,509.4L445.4,508.6L446.6,507.6L447.9,506.7L449.1,505.9L450.4,505.2L451.6,504.6L452.9,503.9L454.1,503.4L455.4,502.8L456.6,502.2L457.9,501.7L459.1,501.3L460.4,500.9L461.6,500.5L463.1,500.1L464.6,499.7L466.1,499.3L467.6,499.0L469.1,498.7L470.6,498.6L472.1,498.5L473.6,498.5L475.1,498.5L476.6,498.5L478.1,498.6L479.6,498.6L481.1,498.7L482.6,498.8L484.1,499.0L485.6,499.2L487.1,499.5L488.6,499.8L490.1,500.0L491.6,500.3L493.1,500.6L494.6,501.0L496.1,501.3L497.6,501.5L499.1,501.7L500.6,501.6L502.1,501.2L503.4,500.6L504.6,500.0L505.9,499.5L507.4,499.1L508.9,498.9L510.4,498.7L511.9,498.6L513.4,498.4L514.9,498.4L516.4,498.3L517.9,498.3L519.4,498.4L520.9,498.5L522.4,498.6L523.9,498.8L525.4,499.0L526.9,499.2L528.4,499.5L529.6,499.9L530.9,500.4L532.1,501.0L533.4,501.7L534.6,502.3L535.9,503.0L537.1,504.0L538.4,505.0L539.6,506.0L540.9,506.9L542.1,507.6L543.4,508.1L544.6,508.5L545.9,508.9L547.4,509.3L548.9,509.7L550.1,510.0L551.4,510.5L552.6,510.9L553.9,511.4L555.1,511.8L556.6,512.0L558.1,512.0L559.6,512.0L561.1,512.0L562.6,512.0L564.1,512.1L565.6,512.4L566.9,512.8L568.1,513.3L569.4,513.9L570.6,514.6L571.6,515.5L572.6,516.6L573.6,518.0L574.4,519.1L575.1,520.2L575.9,521.6L576.6,523.1L577.4,524.8L577.9,526.1L578.4,527.4L578.9,528.7L579.4,530.0L579.9,531.4L580.4,532.8L580.9,534.3L581.4,535.9L581.9,537.5L582.4,539.2L582.9,541.0L583.4,542.8L583.9,544.6L584.4,546.5L584.9,548.6L585.4,550.6L585.9,552.8L586.4,555.1L586.9,557.5L587.4,560.0L587.6,561.4L587.9,562.7L588.1,564.1L588.4,565.6L588.6,567.0L588.9,568.5L589.1,569.9L589.4,571.4L589.6,572.9L589.9,574.8L590.1,576.8L590.4,578.8L590.6,580.7L590.9,582.3L591.4,584.1L592.6,583.6L593.6,582.4L594.6,581.2L595.6,579.8L596.4,578.4L597.1,576.5L597.6,574.2L597.9,572.8L598.1,571.2L598.4,569.6L598.6,568.0L598.9,566.5L599.1,565.2L599.4,563.9L599.9,561.4L600.4,559.0" fill="none" stroke="#008000" stroke-width="4.1" stroke-linejoin="round" stroke-dasharray="14.4 6.4" stroke-dashoffset="5.25" clip-path="url(#clipb)"/>
<path d="M600.4,559.0L600.9,556.6L601.4,554.1L601.9,551.5L602.1,550.2L602.4,548.8L602.6,547.4L602.9,545.9L603.1,544.5L603.4,543.0L603.6,541.6L603.9,540.2L604.1,538.8L604.4,537.5L604.9,535.0L605.4,532.6L605.9,530.3L606.4,528.1L606.9,526.1L607.4,524.3L607.9,522.7L608.4,521.2L608.9,519.7L609.4,518.4L609.9,517.2L610.6,515.6L611.4,514.4L612.1,513.2L613.1,511.9L614.1,510.6L615.1,509.5L616.1,508.5L617.1,507.6L618.1,506.6L619.1,505.8L620.1,504.9L621.1,504.0L622.1,503.1L623.1,502.2L624.4,501.2L625.6,500.2L626.9,499.3L628.1,498.5L629.4,497.8L630.6,497.2L631.9,496.6L633.1,496.1L634.4,495.6L635.6,495.2L636.9,494.7L638.1,494.4L639.4,494.0L640.9,493.6L642.4,493.2L643.9,492.8L645.4,492.5L646.9,492.2L648.4,491.9L649.9,491.6L651.4,491.4L652.9,491.1L654.4,490.9L655.9,490.7L657.4,490.4L658.9,490.2L660.4,490.0L661.9,489.8L663.4,489.6L664.9,489.4L666.4,489.3L667.9,489.1L669.4,488.9L670.9,488.8L672.4,488.6L673.9,488.5L675.4,488.5L676.9,488.7L678.4,489.1L679.9,489.5L681.4,489.8L682.9,490.0L684.4,489.8L685.6,489.2L686.9,488.5L688.1,487.8L689.4,487.2L690.6,486.8L692.1,486.4L693.6,486.1L695.1,485.8L696.6,485.5L698.1,485.2L699.6,485.0L701.1,484.9L702.6,484.7L704.1,484.5L705.6,484.4L707.1,484.2L708.6,484.1L710.1,484.0L711.6,483.9L713.1,483.7L714.6,483.6L716.1,483.5L717.6,483.4L719.1,483.3L720.6,483.2L722.1,483.1L723.6,483.0L725.1,483.0L726.6,482.9L728.1,482.8L729.6,482.7L731.1,482.6L732.6,482.5L734.1,482.4L735.6,482.3L737.1,482.2L738.6,482.1L740.1,482.0L741.6,481.9L743.1,481.8L744.6,481.6L746.1,481.5L747.6,481.4L749.1,481.3L750.6,481.2L752.1,481.1L753.6,480.9L755.1,480.8L756.6,480.7L758.1,480.6L759.6,480.5L761.1,480.3L762.6,480.2L764.1,480.1L765.6,480.0L767.1,479.9L768.6,479.8L770.1,479.7L771.6,479.5L773.1,479.4L774.6,479.3L776.1,479.2L777.6,479.1L779.1,479.1L780.6,479.0L782.1,478.9L783.6,478.8L785.1,478.7L786.6,478.6L788.1,478.5L789.6,478.4L791.1,478.3L792.6,478.2L794.1,478.1L795.6,478.0L797.1,477.9L798.6,477.8L800.1,477.7L801.6,477.6L803.1,477.5L804.6,477.4L806.1,477.4L807.6,477.3L809.1,477.2L810.6,477.2L812.1,477.1L813.6,477.1L815.1,477.1L816.6,477.0L818.1,477.0L819.6,477.0L821.1,477.0L822.6,477.0L824.1,477.0L825.6,477.0L827.1,477.0L828.6,477.0L830.1,477.0L831.6,477.0L833.1,477.0L834.6,477.0L836.1,477.2L837.4,477.7L838.6,478.3L839.9,478.8L841.4,479.0L842.9,478.7L844.1,478.4L845.4,477.9L846.6,477.4L847.9,476.9L849.1,476.6L850.6,476.3L852.1,476.1L853.6,475.9L855.1,475.8L856.6,475.6L858.1,475.5L859.6,475.4L861.1,475.2L862.6,475.1L864.1,475.0L865.6,474.9L867.1,474.8L868.6,474.7L870.1,474.6L871.6,474.6L873.1,474.5L874.6,474.4L876.1,474.3L877.6,474.2L879.1,474.1L880.6,473.9L882.1,473.8L883.6,473.7L885.1,473.6L886.6,473.5L888.1,473.4L889.6,473.3L891.1,473.2L892.6,473.0L894.1,472.9L895.6,472.8L897.1,472.7L898.6,472.6L900.1,472.5L901.6,472.4L903.1,472.3L904.6,472.1L906.1,472.0L907.6,471.9L909.1,471.8L910.6,471.7L912.1,471.5L913.6,471.4L915.1,471.3L916.6,471.2L918.1,471.0L919.6,470.9L921.1,470.8L922.6,470.7L924.1,470.6L925.6,470.4L927.1,470.3L928.6,470.2L930.1,470.1L931.6,470.0L933.1,469.9L934.6,469.8L936.1,469.7L937.6,469.6L939.1,469.5L940.6,469.4L942.1,469.3L943.6,469.3L945.1,469.2L946.6,469.1L948.1,469.1L949.6,469.0L951.1,469.0L952.6,468.9L954.1,468.9L955.6,468.8L957.1,468.8L958.6,468.7L960.1,468.7L961.6,468.6L963.1,468.6L964.6,468.6L966.1,468.5L967.6,468.5L969.1,468.4L970.6,468.4L972.1,468.4L973.6,468.3L975.1,468.3L976.6,468.3L978.1,468.2L979.6,468.2L981.1,468.2L982.6,468.2L984.1,468.1L985.6,468.1L987.1,468.1L988.6,468.1L990.1,468.1L991.6,468.0L993.1,468.0L994.6,468.0L996.1,468.0L997.6,468.0L999.1,468.0L1000.6,468.0L1002.1,468.0L1003.6,468.0L1005.1,468.0L1006.6,468.0L1008.1,468.0L1009.6,468.0L1011.1,468.0L1012.6,468.0L1014.1,468.0L1015.6,468.0L1017.1,468.0L1018.6,468.0L1020.1,468.0L1021.6,468.0L1023.1,468.0L1024.7,467.9L1026.2,467.9L1027.7,467.8L1029.2,467.7L1030.7,467.6L1032.2,467.5L1033.7,467.4L1035.2,467.3L1036.7,467.2L1038.2,467.1L1039.7,467.0L1041.2,466.9L1042.7,466.8L1044.2,466.7L1045.7,466.6L1047.2,466.5L1048.7,466.5L1050.2,466.4L1051.7,466.3L1053.2,466.3L1054.7,466.2L1056.2,466.2L1057.7,466.1L1059.2,466.1L1060.7,466.0L1062.2,465.9L1063.7,465.9L1065.2,465.8L1066.7,465.8L1068.2,465.7L1069.7,465.7L1071.2,465.6L1072.7,465.6L1074.2,465.5L1075.7,465.5L1077.2,465.5L1078.7,465.4L1080.2,465.4L1081.7,465.3L1083.2,465.3L1084.7,465.3L1086.2,465.2L1087.7,465.2L1089.2,465.2L1090.7,465.1L1092.2,465.1L1093.7,465.1L1095.2,465.0L1096.7,465.0L1097.6,465.0" fill="none" stroke="#008000" stroke-width="4.1" stroke-linejoin="round" stroke-dasharray="14.4 6.4" stroke-dashoffset="20.71" clip-path="url(#clipb)"/>
<path d="M120.9,470.2L122.4,470.3L123.9,470.4L125.4,470.6L126.9,470.7L128.4,470.8L129.9,470.9L131.4,471.0L132.9,471.1L134.4,471.2L135.9,471.4L137.4,471.5L138.9,471.6L140.4,471.7L141.9,471.8L143.4,471.9L144.9,472.0L146.4,472.2L147.9,472.3L149.4,472.4L150.9,472.5L152.4,472.6L153.9,472.7L155.4,472.8L156.9,472.9L158.4,473.0L159.9,473.2L161.4,473.3L162.9,473.4L164.4,473.5L165.9,473.6L167.4,473.7L168.9,473.8L170.4,473.9L171.9,474.0L173.4,474.1L174.9,474.2L176.4,474.3L177.9,474.4L179.4,474.5L180.9,474.6L182.4,474.8L183.9,474.9L185.4,475.0L186.9,475.1L188.4,475.2L189.9,475.3L191.4,475.4L192.9,475.5L194.4,475.6L195.9,475.7L197.4,475.8L198.9,475.8L200.4,475.9L201.9,476.0L203.4,476.1L204.9,476.2L206.4,476.3L207.9,476.4L209.4,476.5L210.9,476.6L212.4,476.7L213.9,476.8L215.4,476.9L216.9,477.0L218.4,477.0L219.9,477.1L221.4,477.2L222.9,477.3L224.4,477.4L225.9,477.5L227.4,477.6L228.9,477.7L230.4,477.8L231.9,477.9L233.4,478.0L234.9,478.1L236.4,478.2L237.9,478.3L239.4,478.4L240.9,478.5L242.4,478.6L243.9,478.7L245.4,478.8L246.9,478.9L248.4,479.0L249.9,479.1L251.4,479.2L252.9,479.3L254.4,479.4L255.9,479.5L257.4,479.6L258.9,479.7L260.4,479.9L261.9,480.0L263.4,480.1L264.9,480.2L266.4,480.3L267.9,480.4L269.4,480.5L270.9,480.7L272.4,480.8L273.9,480.9L275.4,481.0L276.9,481.1L278.4,481.3L279.9,481.4L281.4,481.5L282.9,481.6L284.4,481.8L285.9,481.9L287.4,482.0L288.9,482.1L290.4,482.3L291.9,482.4L293.4,482.5L294.9,482.7L296.4,482.8L297.9,482.9L299.4,483.1L300.9,483.2L302.4,483.3L303.9,483.5L305.4,483.6L306.9,483.8L308.4,483.9L309.9,484.1L311.4,484.2L312.9,484.4L314.4,484.5L315.9,484.7L317.4,484.8L318.9,485.0L320.4,485.1L321.9,485.3L323.4,485.5L324.9,485.7L326.4,485.9L327.9,486.1L329.4,486.3L330.9,486.6L332.4,486.8L333.9,487.0L335.4,487.1L336.9,487.3L338.4,487.5L339.9,487.6L341.4,487.7L342.9,487.8L344.4,487.9L345.9,488.0L347.4,488.1L348.9,488.2L350.4,488.3L351.9,488.4L353.4,488.5L354.9,488.6L356.4,488.7L357.9,488.8L359.4,488.8L360.9,488.9L362.4,489.0L363.9,489.0L365.4,489.1L366.9,489.2L368.4,489.2L369.9,489.3L371.4,489.3L372.9,489.4L374.4,489.4L375.9,489.5L377.4,489.5L378.9,489.6L380.4,489.6L381.9,489.6L383.4,489.7L384.9,489.7L386.4,489.7L387.9,489.8L389.4,489.8L390.9,489.8L392.4,489.9L393.9,489.9L395.4,489.9L396.9,490.0L398.4,490.0L399.9,490.0L401.4,490.0L402.9,490.1L404.4,490.1L405.9,490.1L407.4,490.1L408.9,490.1L410.4,490.2L411.9,490.2L413.4,490.2L414.9,490.2L416.4,490.2L417.9,490.2L419.4,490.2L420.9,490.2L422.4,490.2L423.9,490.2L425.4,490.2L426.9,490.2L428.4,490.2L429.9,490.2L431.4,490.2L432.9,490.2L434.4,490.1L435.9,490.1L437.4,490.1L438.9,490.1L440.4,490.1L441.9,490.1L443.4,490.1L444.9,490.1L446.4,490.0L447.9,490.0L449.4,490.0L450.9,490.0L452.4,489.9L453.9,489.9L455.4,489.9L456.9,489.9L458.4,489.8L459.9,489.8L461.4,489.8L462.9,489.7L464.4,489.7L465.9,489.7L467.4,489.6L468.9,489.6L470.4,489.5L471.9,489.5L473.4,489.5L474.9,489.4L476.4,489.4L477.9,489.3L479.4,489.3L480.9,489.2L482.4,489.2L483.9,489.1L485.4,489.1L486.9,489.0L488.4,489.0L489.9,488.9L491.4,488.9L492.9,488.8L494.4,488.8L495.9,488.7L497.4,488.7L498.9,488.6L500.4,488.6L501.9,488.5L503.4,488.5L504.9,488.4L506.4,488.3L507.9,488.3L509.4,488.2L510.9,488.1L512.4,488.0L513.9,487.9L515.4,487.8L516.9,487.8L518.4,487.7L519.9,487.6L521.4,487.5L522.9,487.4L524.4,487.4L525.9,487.3L527.4,487.2L528.9,487.1L530.4,487.1L531.9,487.0L533.4,486.9L534.9,486.8L536.4,486.7L537.9,486.6L539.4,486.6L540.9,486.5L542.4,486.4L543.9,486.3L545.4,486.2L546.9,486.1L548.4,486.1L549.9,486.0L551.4,485.9L552.9,485.8L554.4,485.7L555.9,485.6L557.4,485.6L558.9,485.5L560.4,485.4L561.9,485.3L563.4,485.2L564.9,485.1L566.4,485.0L567.9,484.9L569.4,484.8L570.9,484.7L572.4,484.6L573.9,484.5L575.4,484.5L576.9,484.4L578.4,484.3L579.9,484.2L581.4,484.1L582.9,484.0L584.4,483.9L585.9,483.8L587.4,483.7L588.9,483.6L590.4,483.5L591.9,483.4L593.4,483.3L594.9,483.2L596.4,483.1L597.9,483.0L599.4,482.9L600.9,482.8L602.4,482.8L603.9,482.7L605.4,482.6L606.9,482.5L608.4,482.4L609.9,482.3L611.4,482.2L612.9,482.1L614.4,482.0L615.9,482.0L617.4,481.9L618.9,481.8L620.4,481.7L621.9,481.6L623.4,481.5L624.9,481.4L626.4,481.4L627.9,481.3L629.4,481.2L630.9,481.1L632.4,481.0L633.9,480.9L635.4,480.8L636.9,480.8L638.4,480.7L639.9,480.6L641.4,480.5L642.9,480.4L644.4,480.4L645.9,480.3L647.4,480.2L648.9,480.1L650.4,480.1L651.9,480.0L653.4,479.9L654.9,479.8L656.4,479.8L657.9,479.7L659.4,479.6L660.9,479.5L662.4,479.5L663.9,479.4L665.4,479.3L666.9,479.3L668.4,479.2L669.9,479.1L671.4,479.0L672.9,479.0L674.4,478.9L675.9,478.8L677.4,478.8L678.9,478.7L680.4,478.6L681.9,478.5L683.4,478.5L684.9,478.4L686.4,478.3L687.9,478.2L689.4,478.2L690.9,478.1L692.4,478.0L693.9,477.9L695.4,477.8L696.9,477.8L698.4,477.7L699.9,477.6L701.4,477.5L702.9,477.4L704.4,477.4L705.9,477.3L707.4,477.2L708.9,477.1L710.4,477.0L711.9,476.9L713.4,476.8L714.9,476.7L716.4,476.6L717.9,476.5L719.4,476.4L720.9,476.3L722.4,476.3L723.9,476.2L725.4,476.1L726.9,476.0L728.4,475.9L729.9,475.8L731.4,475.7L732.9,475.6L734.4,475.5L735.9,475.4L737.4,475.3L738.9,475.2L740.4,475.1L741.9,475.0L743.4,474.9L744.9,474.8L746.4,474.7L747.9,474.6L749.4,474.5L750.9,474.4L752.4,474.3L753.9,474.2L755.4,474.1L756.9,474.0L758.4,473.9L759.9,473.8L761.4,473.7L762.9,473.6L764.4,473.5L765.9,473.4L767.4,473.3L768.9,473.2L770.4,473.2L771.9,473.1L773.4,473.0L774.9,472.9L776.4,472.8L777.9,472.7L779.4,472.6L780.9,472.6L782.4,472.5L783.9,472.4L785.4,472.3L786.9,472.2L788.4,472.1L789.9,472.1L791.4,472.0L792.9,471.9L794.4,471.8L795.9,471.7L797.4,471.6L798.9,471.6L800.4,471.5L801.9,471.4L803.4,471.3L804.9,471.2L806.4,471.2L807.9,471.1L809.4,471.0L810.9,470.9L812.4,470.9L813.9,470.8L815.4,470.7L816.9,470.6L818.4,470.5L819.9,470.5L821.4,470.4L822.9,470.3L824.4,470.2L825.9,470.2L827.4,470.1L828.9,470.0L830.4,469.9L831.9,469.9L833.4,469.8L834.9,469.7L836.4,469.7L837.9,469.6L839.4,469.5L840.9,469.4L842.4,469.4L843.9,469.3L845.4,469.2L846.9,469.2L848.4,469.1L849.9,469.0L851.4,469.0L852.9,468.9L854.4,468.8L855.9,468.8L857.4,468.7L858.9,468.6L860.4,468.6L861.9,468.5L863.4,468.5L864.9,468.4L866.4,468.3L867.9,468.3L869.4,468.2L870.9,468.1L872.4,468.1L873.9,468.0L875.4,468.0L876.9,467.9L878.4,467.9L879.9,467.8L881.4,467.7L882.9,467.7L884.4,467.6L885.9,467.6L887.4,467.5L888.9,467.4L890.4,467.4L891.9,467.3L893.4,467.3L894.9,467.2L896.4,467.2L897.9,467.1L899.4,467.1L900.9,467.0L902.4,466.9L903.9,466.9L905.4,466.8L906.9,466.8L908.4,466.7L909.9,466.7L911.4,466.6L912.9,466.6L914.4,466.5L915.9,466.5L917.4,466.4L918.9,466.4L920.4,466.3L921.9,466.3L923.4,466.2L924.9,466.1L926.4,466.1L927.9,466.0L929.4,466.0L930.9,465.9L932.4,465.9L933.9,465.8L935.4,465.8L936.9,465.7L938.4,465.7L939.9,465.6L941.4,465.6L942.9,465.5L944.4,465.5L945.9,465.5L947.4,465.4L948.9,465.4L950.4,465.3L951.9,465.3L953.4,465.2L954.9,465.2L956.4,465.1L957.9,465.1L959.4,465.0L960.9,465.0L962.4,464.9L963.9,464.9L965.4,464.8L966.9,464.8L968.4,464.7L969.9,464.7L971.4,464.6L972.9,464.6L974.4,464.6L975.9,464.5L977.4,464.5L978.9,464.4L980.4,464.4L981.9,464.3L983.4,464.3L984.9,464.2L986.4,464.2L987.9,464.2L989.4,464.1L990.9,464.1L992.4,464.0L993.9,464.0L995.4,464.0L996.9,463.9L998.4,463.9L999.9,463.8L1001.4,463.8L1002.9,463.7L1004.4,463.7L1005.9,463.7L1007.4,463.6L1008.9,463.6L1010.4,463.5L1011.9,463.5L1013.4,463.5L1014.9,463.4L1016.4,463.4L1017.9,463.3L1019.4,463.3L1020.9,463.3L1022.4,463.2L1023.9,463.2L1025.4,463.1L1026.9,463.1L1028.4,463.0L1029.9,463.0L1031.4,463.0L1032.9,462.9L1034.4,462.9L1035.9,462.8L1037.4,462.8L1038.9,462.8L1040.4,462.7L1041.9,462.7L1043.4,462.6L1044.9,462.6L1046.4,462.6L1047.9,462.5L1049.4,462.5L1050.9,462.4L1052.4,462.4L1053.9,462.4L1055.4,462.3L1056.9,462.3L1058.4,462.2L1059.9,462.2L1061.4,462.2L1062.9,462.1L1064.4,462.1L1065.9,462.0L1067.4,462.0L1068.9,462.0L1070.4,461.9L1071.9,461.9L1073.4,461.8L1074.9,461.8L1076.4,461.8L1077.9,461.7L1079.4,461.7L1080.9,461.6L1082.4,461.6L1083.9,461.6L1085.4,461.5L1086.9,461.5L1088.4,461.4L1089.9,461.4L1091.4,461.4L1092.9,461.3L1094.4,461.3L1095.9,461.2L1097.4,461.2L1097.6,461.2" fill="none" stroke="#b22222" stroke-width="4.1" stroke-linejoin="round" stroke-dasharray="14.4 6.4" stroke-dashoffset="0.00" clip-path="url(#clipb)"/>
<path d="M120.9,1037.6L122.4,1037.8L123.9,1038.1L125.4,1038.1L126.9,1038.0L128.4,1037.9L129.9,1037.9L131.4,1037.9L132.9,1037.7L134.4,1037.5L135.9,1037.4L137.4,1037.6L138.9,1038.0L140.4,1038.3L141.9,1038.3L143.4,1038.1L144.9,1038.0L146.4,1037.9L147.9,1038.0L149.4,1038.1L150.9,1038.1L152.4,1038.1L153.9,1038.2L155.4,1038.4L156.9,1038.4L158.4,1038.1L159.9,1037.6L161.4,1037.4L162.9,1037.4L164.4,1037.6L165.9,1037.8L167.4,1037.9L168.9,1037.9L170.4,1038.0L171.9,1038.0L173.4,1038.0L174.9,1037.9L176.4,1037.7L177.9,1037.7L179.4,1038.0L180.9,1038.3L182.4,1038.5L183.9,1038.3L185.4,1038.1L186.9,1037.9L188.4,1037.8L189.9,1037.8L191.4,1037.7L192.9,1037.6L194.4,1037.7L195.9,1037.9L197.4,1038.2L198.9,1038.2L200.4,1038.0L201.9,1037.7L203.4,1037.7L204.9,1037.8L206.4,1038.1L207.9,1038.3L209.4,1038.3L210.9,1038.3L212.4,1038.3L213.9,1038.3L215.4,1038.2L216.9,1037.9L218.4,1037.6L219.9,1037.5L221.4,1037.8L222.9,1038.1L224.4,1038.2L225.9,1038.0L227.4,1037.9L228.9,1037.8L230.4,1037.8L231.9,1037.8L233.4,1037.8L234.9,1037.8L236.4,1038.0L237.9,1038.3L239.4,1038.5L240.9,1038.5L242.4,1038.1L243.9,1037.8L245.4,1037.7L246.9,1037.8L248.4,1038.0L249.9,1038.1L251.4,1038.0L252.9,1037.8L254.4,1037.5L255.7,1037.1L256.9,1036.2L257.9,1035.2L258.9,1034.1L259.9,1033.1L260.9,1032.3L262.1,1031.5L263.4,1030.9L264.6,1030.4L265.9,1029.9L267.4,1029.6L268.9,1029.7L270.1,1030.2L271.4,1030.8L272.6,1031.3L274.1,1031.6L275.6,1031.6L277.1,1031.5L278.6,1031.4L280.1,1031.3L281.6,1031.2L283.1,1031.4L284.4,1032.0L285.6,1032.7L287.1,1033.0L288.6,1032.8L290.1,1032.5L291.6,1032.1L293.1,1032.0L294.4,1032.4L295.6,1033.1L296.9,1033.8L298.4,1034.0L299.9,1033.8L301.4,1033.4L302.9,1033.0L304.4,1032.7L305.9,1032.5L307.4,1032.5L308.9,1032.4L310.4,1032.3L311.9,1032.3L313.4,1032.2L314.9,1032.2L316.4,1032.2L317.9,1032.1L319.4,1032.0L320.9,1031.9L322.4,1031.9L323.9,1031.8L325.4,1031.7L326.9,1031.5L328.4,1031.4L329.9,1031.3L331.4,1031.1L332.9,1030.9L334.4,1030.7L335.9,1030.4L337.4,1030.1L338.6,1029.7L339.9,1029.2L341.1,1028.6L342.4,1027.8L343.6,1027.0L344.6,1026.0L345.4,1024.7L346.1,1023.0L346.6,1021.7L347.1,1020.4L347.6,1019.0L348.1,1017.6L348.6,1016.0L349.1,1014.3L349.6,1012.5L350.1,1010.5L350.6,1008.5L351.1,1006.3L351.6,1003.7L351.9,1002.2L352.1,1000.7L352.4,999.2L352.6,997.7L352.9,996.2L353.1,994.9L353.6,992.8L354.1,991.5L354.9,990.1L355.6,988.9L356.6,987.5L357.6,986.7L358.9,986.5L359.9,987.6L360.6,989.2L361.1,990.4L361.6,991.7L362.1,993.1L362.6,994.4L363.1,996.0L363.6,997.8L364.1,999.8L364.6,1001.9L365.1,1003.9L365.6,1005.8L366.1,1007.5L366.6,1009.1L367.1,1010.8L367.6,1012.4L368.1,1014.0L368.6,1015.4L369.4,1017.1L370.1,1018.2L371.1,1019.2L372.1,1020.0L373.4,1020.9L374.6,1021.5L375.9,1021.9L377.4,1022.1L378.9,1022.3L380.4,1022.3L381.9,1022.1L383.1,1021.7L384.4,1021.2L385.6,1020.7L386.9,1020.1L388.1,1019.7L389.4,1019.2L390.6,1018.6L391.9,1017.8L393.1,1016.8L394.1,1015.3L394.9,1013.6L395.4,1012.4L395.9,1011.0L396.4,1009.5L396.9,1007.8L397.4,1005.6L397.9,1003.1L398.1,1001.7L398.4,1000.4L398.6,999.0L398.9,997.6L399.1,996.2L399.4,994.8L399.6,993.5L400.1,991.1L400.6,988.9L401.1,986.8L401.6,984.7L402.1,982.7L402.6,980.6L403.1,978.4L403.6,976.1L404.1,973.6L404.4,972.3L404.6,971.0L404.9,969.7L405.1,968.3L405.4,966.9L405.6,965.4L405.9,963.9L406.1,962.4L406.4,960.8L406.6,959.2L406.9,957.5L407.1,955.8L407.4,954.1L407.6,952.2L407.9,950.3L408.1,948.1L408.4,945.9L408.6,943.6L408.9,941.2L409.1,938.8L409.4,936.4L409.6,934.0L409.9,931.7L410.1,929.5L410.4,927.2L410.6,924.9L410.9,922.6L411.1,920.4L411.4,918.1L411.6,915.9L411.9,913.8L412.1,911.7L412.4,909.8L412.6,907.9L412.9,905.9L413.1,903.9L413.4,901.9L413.6,900.0L413.9,898.2L414.1,896.5L414.4,895.0L414.9,892.9L415.4,891.6L416.1,890.1L417.1,889.4L418.1,890.8L418.6,892.0L419.1,893.4L419.6,894.9L420.1,896.3L420.6,897.8L421.1,899.4L421.6,901.2L422.1,903.0L422.6,905.0L423.1,907.1L423.6,909.2L424.1,911.3L424.6,913.5L425.1,915.8L425.6,918.1L426.1,920.6L426.6,923.2L426.9,924.5L427.1,925.9L427.4,927.3L427.6,928.7L427.9,930.2L428.1,931.7L428.4,933.4L428.6,935.2L428.9,937.1L429.1,939.0L429.4,941.0L429.6,942.9L429.9,944.9L430.1,946.8L430.4,948.6L430.6,950.4L430.9,952.0L431.1,953.5L431.4,954.9L431.6,956.2L431.9,957.6L432.4,960.1L432.9,962.5L433.4,964.8L433.9,967.1L434.4,969.4L434.9,971.7L435.4,974.2L435.9,976.7L436.4,979.2L436.9,981.8L437.4,984.2L437.9,986.6L438.4,988.8L438.9,990.8L439.4,992.9L439.9,994.9L440.4,996.9L440.9,998.8L441.4,1000.6L441.9,1002.2L442.4,1003.6L443.1,1005.2L443.9,1006.5L444.6,1007.7L445.6,1009.1L446.6,1010.2L447.6,1011.1L448.9,1012.0L450.1,1012.9L451.4,1013.6L452.6,1014.2L453.9,1014.6L455.4,1014.7L456.9,1014.7L458.4,1014.7L459.9,1014.7L461.4,1014.7L462.9,1014.7L464.4,1014.5L465.6,1014.1L466.9,1013.6L468.1,1013.0L469.4,1012.5L470.6,1012.1L472.1,1011.9L473.6,1012.0L475.1,1012.3L476.6,1012.7L478.1,1013.0L479.6,1013.2L481.1,1012.9L482.4,1012.2L483.6,1011.3L484.9,1010.6L486.4,1010.3L487.9,1010.4L489.4,1010.6L490.9,1010.9L492.4,1011.0L493.9,1011.2L495.4,1011.3L496.9,1011.5L498.4,1011.7L499.9,1011.9L501.4,1012.1L502.9,1012.5L504.4,1012.9L505.9,1013.3L507.1,1013.6L508.4,1014.1L509.6,1014.8L510.9,1015.3L512.1,1015.7L513.6,1015.8L515.1,1015.8L516.6,1015.7L518.1,1015.6L519.6,1015.5L521.1,1015.4L522.6,1015.3L524.1,1015.2L525.6,1015.1L527.1,1015.0L528.6,1014.9L530.1,1014.7L531.4,1014.3L532.6,1013.6L533.9,1012.7L535.1,1011.7L536.4,1010.7L537.6,1009.8L538.6,1008.7L539.6,1007.6L540.6,1006.6L541.9,1005.6L543.1,1005.3L544.6,1005.3L546.1,1005.4L547.6,1005.4L549.1,1005.5L550.6,1005.4L551.9,1004.8L553.1,1004.0L554.4,1003.2L555.6,1002.7L557.1,1002.7L558.6,1002.7L560.1,1002.7L561.6,1002.7L563.1,1002.7L564.4,1002.1L565.4,1001.1L566.4,999.7L567.1,998.6L567.9,997.5L568.6,996.2L569.4,994.5L569.9,993.3L570.4,992.0L570.9,990.6L571.4,989.1L571.9,987.7L572.4,986.2L572.9,984.8L573.4,983.3L573.9,981.7L574.4,980.0L574.9,978.3L575.4,976.5L575.9,974.6L576.4,972.6L576.9,970.4L577.4,968.1L577.6,966.8L577.9,965.4L578.1,963.9L578.4,962.4L578.6,960.8L578.9,959.2L579.1,957.6L579.4,956.0L579.6,954.3L579.9,952.7L580.1,951.1L580.4,949.5L580.6,947.9L580.9,946.3L581.1,944.8L581.4,943.2L581.6,941.7L581.9,940.1L582.1,938.5L582.4,936.9L582.6,935.3L582.9,933.7L583.1,932.1L583.4,930.4L583.6,928.8L583.9,927.1L584.1,925.4L584.4,923.6L584.6,921.8L584.9,919.9L585.1,918.0L585.4,916.1L585.6,914.2L585.9,912.3L586.1,910.5L586.4,908.7L586.6,906.9L586.9,905.3L587.1,903.6L587.4,902.0L587.6,900.4L587.9,898.8L588.1,897.2L588.4,895.7L588.6,894.2L588.9,892.7L589.1,891.3L589.4,890.0L589.9,887.6L590.4,885.5L590.9,883.4L591.4,881.5L591.9,879.8L592.4,878.4L593.1,877.2L594.1,876.4L595.1,877.2L595.6,879.2L595.9,880.5L596.1,881.9L596.4,883.5L596.6,885.0L596.9,886.6L597.1,888.2L597.4,890.0L597.6,892.1L597.9,894.3L598.1,896.6L598.4,899.0L598.6,901.4L598.9,903.7L599.1,905.9L599.4,908.1L599.6,910.4L599.9,912.6L600.1,914.9L600.4,917.1L600.6,919.3L600.9,921.5L601.1,923.7L601.4,925.9L601.6,928.0L601.9,930.0L602.1,932.0L602.4,933.9L602.6,935.8L602.9,937.6L603.1,939.4L603.4,941.2L603.6,943.0L603.9,944.8L604.1,946.5L604.4,948.3L604.6,950.1L604.9,951.9L605.1,953.7L605.4,955.6L605.6,957.6L605.9,959.6L606.1,961.6L606.4,963.5L606.6,965.5L606.9,967.4L607.1,969.2L607.4,970.9L607.6,972.5L607.9,973.9L608.4,976.4L608.9,978.7L609.4,980.9L609.9,982.9L610.4,984.8L610.9,986.5L611.4,988.0L611.9,989.4L612.6,991.1L613.4,992.7L614.1,994.1L614.9,995.4L615.6,996.5L616.6,997.9L617.6,999.1L618.6,1000.2L619.6,1001.1L620.6,1002.0L621.9,1003.0L623.1,1003.9L624.4,1004.7L625.6,1005.4L626.9,1006.0L628.1,1006.6L629.4,1007.1L630.6,1007.7L631.9,1008.2L633.1,1008.7L634.4,1009.1L635.6,1009.6L636.9,1010.0L638.1,1010.4L639.4,1010.8L640.6,1011.2L641.9,1011.6L643.1,1011.9L644.4,1012.3L645.6,1012.7L646.9,1013.0L648.4,1013.5L649.9,1013.9L651.4,1014.2L652.9,1014.5L654.4,1014.8L655.9,1015.0L657.4,1015.2L658.9,1015.4L660.4,1015.5L661.9,1015.7L663.4,1015.8L664.9,1015.8L666.4,1015.7L667.9,1015.6L669.4,1015.3L670.9,1015.0L672.4,1014.6L673.6,1013.9L674.9,1013.0L676.1,1012.1L677.4,1011.3L678.6,1010.7L679.9,1010.2L681.1,1009.7L682.4,1009.2L683.9,1008.9L685.4,1008.8L686.6,1009.3L687.9,1010.2L689.1,1011.3L690.4,1012.2L691.6,1012.8L692.9,1013.3L694.1,1013.8L695.4,1014.2L696.6,1014.6L698.1,1015.0L699.6,1015.4L701.1,1015.8L702.6,1016.1L704.1,1016.4L705.6,1016.7L707.1,1016.9L708.6,1017.2L710.1,1017.3L711.6,1017.5L713.1,1017.6L714.6,1017.7L716.1,1017.9L717.6,1018.0L719.1,1018.1L720.6,1018.2L722.1,1018.3L723.6,1018.3L725.1,1018.4L726.6,1018.5L728.1,1018.5L729.6,1018.5L731.1,1018.5L732.6,1018.5L734.1,1018.5L735.6,1018.5L737.1,1018.4L738.6,1018.4L740.1,1018.4L741.6,1018.3L743.1,1018.3L744.6,1018.3L746.1,1018.2L747.6,1018.2L749.1,1018.1L750.6,1018.1L752.1,1018.0L753.6,1017.9L755.1,1017.7L756.6,1017.5L758.1,1017.2L759.6,1016.9L761.1,1016.7L762.6,1016.5L764.1,1016.4L765.6,1016.4L767.1,1016.5L768.6,1016.8L770.1,1017.1L771.6,1017.5L773.1,1017.9L774.6,1018.3L776.1,1018.7L777.6,1019.0L779.1,1019.3L780.6,1019.5L782.1,1019.6L783.6,1019.8L785.1,1019.9L786.6,1020.0L788.1,1020.1L789.6,1020.2L791.1,1020.3L792.6,1020.4L794.1,1020.5L795.6,1020.6L797.1,1020.6L798.6,1020.7L800.1,1020.8L801.6,1020.9L803.1,1021.0L804.6,1021.1L806.1,1021.2L807.6,1021.3L809.1,1021.3L810.6,1021.4L812.1,1021.5L813.6,1021.6L815.1,1021.6L816.6,1021.7L818.1,1021.7L819.6,1021.7L821.1,1021.7L822.6,1021.5L824.1,1021.2L825.6,1020.8L826.9,1020.5L828.1,1020.1L829.4,1019.6L830.6,1019.1L831.9,1018.2L832.9,1017.4L833.9,1016.5L835.1,1015.5L836.4,1014.8L837.6,1014.2L838.9,1013.7L840.4,1013.3L841.9,1013.5L843.1,1014.1L844.4,1015.0L845.6,1015.9L846.9,1016.7L848.1,1017.4L849.4,1018.1L850.6,1018.9L851.9,1019.5L853.1,1020.0L854.6,1020.3L856.1,1020.2L857.6,1019.9L859.1,1019.6L860.6,1019.2L862.1,1018.9L863.6,1018.9L865.1,1019.0L866.6,1019.2L868.1,1019.4L869.6,1019.7L871.1,1020.1L872.4,1020.5L873.6,1020.9L874.9,1021.3L876.4,1021.7L877.9,1022.0L879.4,1022.2L880.9,1022.4L882.4,1022.5L883.9,1022.7L885.4,1022.8L886.9,1022.9L888.4,1023.0L889.9,1023.1L891.4,1023.2L892.9,1023.3L894.4,1023.4L895.9,1023.5L897.4,1023.6L898.9,1023.7L900.4,1023.8L901.9,1023.9L903.4,1024.0L904.9,1024.2L906.4,1024.3L907.9,1024.4L909.4,1024.5L910.9,1024.6L912.4,1024.8L913.9,1024.9L915.4,1025.0L916.9,1025.1L918.4,1025.2L919.9,1025.3L921.4,1025.4L922.9,1025.5L924.4,1025.6L925.9,1025.7L927.4,1025.7L928.9,1025.8L930.4,1025.8L931.9,1025.9L933.4,1025.9L934.9,1025.9L936.4,1025.9L937.9,1025.9L939.4,1025.9L940.9,1025.9L942.4,1025.9L943.9,1025.9L945.4,1025.9L946.9,1025.9L948.4,1025.9L949.9,1025.9L951.4,1025.9L952.9,1025.9L954.4,1025.9L955.9,1025.8L957.4,1025.6L958.6,1025.2L959.9,1024.7L961.1,1024.2L962.4,1023.6L963.6,1022.8L964.9,1021.9L966.1,1020.9L967.4,1020.2L968.6,1019.7L969.9,1019.2L971.1,1018.8L972.6,1018.5L974.1,1018.2L975.6,1018.2L977.1,1018.6L978.4,1019.0L979.6,1019.6L980.9,1020.1L982.1,1020.7L983.4,1021.2L984.6,1021.8L985.9,1022.4L987.1,1023.0L988.4,1023.6L989.6,1024.0L991.1,1024.4L992.6,1024.8L994.1,1025.1L995.6,1025.5L997.1,1025.7L998.6,1025.9L1000.1,1025.9L1001.6,1025.9L1003.1,1025.9L1004.6,1025.8L1006.1,1025.8L1007.6,1025.8L1009.1,1025.7L1010.6,1025.7L1012.1,1025.6L1013.6,1025.5L1015.1,1025.5L1016.6,1025.4L1018.1,1025.3L1019.6,1025.2L1021.1,1025.1L1022.6,1025.0L1024.2,1024.9L1025.7,1024.8L1027.2,1024.8L1028.7,1024.8L1030.2,1024.9L1031.7,1025.2L1033.2,1025.5L1034.7,1025.8L1036.2,1026.2L1037.7,1026.5L1039.2,1026.8L1040.7,1027.0L1042.2,1027.1L1043.7,1027.3L1045.2,1027.4L1046.7,1027.6L1048.2,1027.7L1049.7,1027.8L1051.2,1027.9L1052.7,1028.0L1054.2,1028.1L1055.7,1028.1L1057.2,1028.2L1058.7,1028.2L1060.2,1028.3L1061.7,1028.3L1063.2,1028.4L1064.7,1028.4L1066.2,1028.5L1067.7,1028.5L1069.2,1028.6L1070.7,1028.6L1072.2,1028.6L1073.7,1028.7L1075.2,1028.7L1076.7,1028.8L1078.2,1028.8L1079.7,1028.8L1081.2,1028.8L1082.7,1028.9L1084.2,1028.9L1085.7,1028.9L1087.2,1028.9L1088.7,1029.0L1090.2,1029.0L1091.7,1029.0L1093.2,1029.0L1094.7,1029.0L1096.2,1029.0L1097.6,1029.0" fill="none" stroke="#ffa500" stroke-width="4.1" stroke-linejoin="round" clip-path="url(#clipc)"/>
<path d="M120.9,1036.0L122.4,1036.2L123.9,1036.5L125.4,1036.5L126.9,1036.4L128.4,1036.3L129.9,1036.3L131.4,1036.3L132.9,1036.1L134.4,1035.9L135.9,1035.8L137.4,1036.0L138.9,1036.4L140.4,1036.7L141.9,1036.7L143.4,1036.5L144.9,1036.4L146.4,1036.3L147.9,1036.4L149.4,1036.5L150.9,1036.5L152.4,1036.5L153.9,1036.6L155.4,1036.8L156.9,1036.8L158.4,1036.5L159.9,1036.0L161.4,1035.8L162.9,1035.8L164.4,1036.0L165.9,1036.2L167.4,1036.3L168.9,1036.3L170.4,1036.4L171.9,1036.4L173.4,1036.4L174.9,1036.3L176.4,1036.1L177.9,1036.1L179.4,1036.4L180.9,1036.7L182.4,1036.9L183.9,1036.7L185.4,1036.5L186.9,1036.3L188.4,1036.2L189.9,1036.2L191.4,1036.1L192.9,1036.0L194.4,1036.1L195.9,1036.3L197.4,1036.6L198.9,1036.6L200.4,1036.4L201.9,1036.1L203.4,1036.1L204.9,1036.2L206.4,1036.5L207.9,1036.7L209.4,1036.7L210.9,1036.7L212.4,1036.7L213.9,1036.7L215.4,1036.6L216.9,1036.3L218.4,1036.0L219.9,1035.9L221.4,1036.2L222.9,1036.5L224.4,1036.6L225.9,1036.4L227.4,1036.3L228.9,1036.2L230.4,1036.2L231.9,1036.2L233.4,1036.2L234.9,1036.2L236.4,1036.4L237.9,1036.7L239.4,1036.9L240.9,1036.9L242.4,1036.5L243.9,1036.2L245.4,1036.1L246.9,1036.2L248.4,1036.4L249.9,1036.5L251.4,1036.4L252.9,1036.2L254.4,1035.9L255.7,1035.5L256.9,1034.6L257.9,1033.6L258.9,1032.5L259.9,1031.5L260.9,1030.7L262.1,1029.9L263.4,1029.3L264.6,1028.8L265.9,1028.3L267.4,1028.0L268.9,1028.1L270.1,1028.6L271.4,1029.2L272.6,1029.7L274.1,1030.0L275.6,1030.0L277.1,1029.9L278.6,1029.8L280.1,1029.7L281.6,1029.6L283.1,1029.8L284.4,1030.4L285.6,1031.1L287.1,1031.4L288.6,1031.2L290.1,1030.9L291.6,1030.5L293.1,1030.4L294.4,1030.8L295.6,1031.5L296.9,1032.2L298.4,1032.4L299.9,1032.2L301.4,1031.8L302.6,1031.4L304.1,1031.1L305.6,1031.0L307.1,1031.0L308.6,1030.9L310.1,1030.9L311.6,1030.9L313.1,1030.9L314.6,1030.9L316.1,1030.9L317.6,1030.8L319.1,1030.8L320.6,1030.8L322.1,1030.5L323.6,1030.2L325.1,1029.8L326.6,1029.5L328.1,1029.4L329.6,1029.6L330.9,1030.0L332.1,1030.4L333.4,1030.8L334.9,1031.0L336.4,1031.0L337.9,1030.8L339.4,1030.6L340.9,1030.4L342.4,1030.1L343.9,1029.8L345.1,1029.4L346.4,1028.8L347.6,1028.0L348.6,1027.1L349.4,1026.0L350.1,1024.6L350.9,1023.2L351.6,1021.8L352.4,1020.6L353.1,1019.3L353.9,1018.1L354.9,1017.0L356.1,1016.2L357.4,1015.6L358.9,1015.3L360.1,1015.6L361.4,1016.5L362.4,1017.4L363.4,1018.4L364.4,1019.7L365.1,1020.9L365.9,1022.0L366.9,1023.3L367.9,1024.3L368.9,1025.2L370.1,1026.2L371.4,1026.9L372.6,1027.3L374.1,1027.7L375.6,1028.0L377.1,1028.2L378.6,1028.2L380.1,1027.9L381.6,1027.6L382.9,1027.2L384.4,1026.8L385.9,1026.6L387.4,1026.4L388.9,1026.3L390.4,1026.1L391.9,1025.9L393.4,1025.4L394.6,1024.3L395.6,1023.1L396.6,1021.7L397.6,1020.3L398.4,1019.2L399.1,1017.9L399.9,1016.6L400.6,1015.3L401.4,1014.0L402.1,1012.7L402.9,1011.4L403.6,1010.0L404.4,1008.4L405.1,1006.6L405.6,1005.1L406.1,1003.4L406.6,1001.6L407.1,999.6L407.6,997.6L408.1,995.6L408.6,993.4L409.1,991.1L409.6,988.7L410.1,986.4L410.6,984.3L411.1,982.5L411.6,980.7L412.1,979.0L412.6,977.4L413.1,976.0L413.9,974.5L414.9,973.3L415.9,972.4L417.4,972.4L418.6,973.2L419.6,974.1L420.6,975.1L421.6,976.5L422.4,977.8L423.1,979.2L423.9,980.8L424.6,982.6L425.1,984.0L425.6,985.5L426.1,987.0L426.6,988.5L427.1,990.0L427.6,991.6L428.1,993.2L428.6,994.9L429.1,996.5L429.6,998.0L430.1,999.4L430.6,1000.6L431.4,1002.2L432.1,1003.6L432.9,1004.8L433.9,1006.0L434.9,1007.0L435.9,1007.9L436.9,1009.1L437.6,1010.3L438.4,1011.8L439.1,1013.4L439.9,1015.1L440.6,1016.4L441.6,1017.7L442.6,1018.8L443.6,1019.8L444.9,1020.6L446.1,1021.0L447.4,1021.4L448.9,1021.7L450.4,1022.0L451.9,1022.3L453.4,1022.6L454.9,1022.9L456.4,1023.2L457.9,1023.4L459.4,1023.6L460.9,1023.8L462.4,1023.8L463.9,1023.5L465.1,1023.0L466.4,1022.5L467.6,1022.0L468.9,1021.3L470.1,1020.6L471.4,1020.2L472.9,1020.1L474.4,1020.3L475.9,1020.6L477.4,1020.9L478.9,1021.1L480.4,1021.2L481.9,1021.1L483.4,1020.8L484.9,1020.7L486.4,1020.6L487.9,1020.7L489.4,1021.0L490.9,1021.3L492.4,1021.6L493.9,1021.8L495.4,1021.9L496.9,1022.0L498.4,1022.1L499.9,1022.1L501.4,1022.1L502.9,1022.2L504.4,1022.3L505.9,1022.4L507.4,1022.5L508.9,1022.8L510.4,1023.0L511.9,1023.2L513.4,1023.3L514.9,1023.4L516.4,1023.4L517.9,1023.4L519.4,1023.4L520.9,1023.4L522.4,1023.4L523.9,1023.4L525.4,1023.4L526.9,1023.4L528.4,1023.4L529.9,1023.4L531.4,1023.3L532.9,1023.0L534.1,1022.6L535.4,1022.2L536.6,1021.7L537.9,1021.2L539.1,1020.7L540.4,1019.9L541.6,1019.3L543.1,1019.0L544.6,1019.1L546.1,1019.3L547.6,1019.5L549.1,1019.7L550.6,1019.7L552.1,1019.7L553.6,1019.6L555.1,1019.6L556.6,1019.5L558.1,1019.4L559.6,1019.3L561.1,1019.2L562.6,1019.0L564.1,1018.8L565.6,1018.4L566.9,1017.9L568.1,1017.3L569.4,1016.7L570.6,1015.6L571.6,1014.6L572.6,1013.3L573.6,1011.9L574.4,1010.8L575.1,1009.4L575.9,1007.7L576.6,1006.0L577.1,1004.8L577.6,1003.6L578.1,1002.3L578.6,1001.1L579.1,999.7L579.6,998.4L580.1,997.0L580.6,995.6L581.1,994.2L581.6,992.8L582.1,991.4L582.6,990.0L583.1,988.6L583.6,987.2L584.1,985.8L584.6,984.5L585.1,983.1L585.6,981.9L586.1,980.6L586.6,979.4L587.1,978.1L587.6,976.8L588.1,975.6L588.9,974.0L589.6,972.7L590.6,971.4L591.6,970.3L592.6,969.4L593.9,968.9L595.1,969.5L596.1,970.8L596.9,972.1L597.6,973.7L598.4,975.5L598.9,977.3L599.4,979.6L599.9,982.1L600.4,984.6L600.9,987.0L601.4,989.2L601.9,991.5L602.4,993.8L602.9,996.1L603.4,998.2L603.9,1000.1L604.4,1001.9L604.9,1003.6L605.4,1005.2L605.9,1006.7L606.4,1008.0L607.1,1009.4L607.9,1010.6L608.9,1011.9L609.9,1013.0L610.9,1013.9L612.1,1014.8L613.4,1015.6L614.6,1016.3L615.9,1016.9L617.1,1017.4L618.4,1017.9L619.6,1018.3L620.9,1018.7L622.1,1019.0L623.6,1019.4L625.1,1019.8L626.6,1020.1L628.1,1020.4L629.6,1020.7L631.1,1021.0L632.6,1021.3L634.1,1021.6L635.6,1021.9L637.1,1022.2L638.6,1022.5L640.1,1022.7L641.6,1023.0L643.1,1023.2L644.6,1023.4L646.1,1023.5L647.6,1023.7L649.1,1023.8L650.6,1024.0L652.1,1024.1L653.6,1024.2L655.1,1024.3L656.6,1024.4L658.1,1024.5L659.6,1024.5L661.1,1024.5L662.6,1024.5L664.1,1024.5L665.6,1024.5L667.1,1024.5L668.6,1024.5L670.1,1024.5L671.6,1024.5L673.1,1024.4L674.6,1024.1L676.1,1023.7L677.4,1023.4L678.9,1023.0L680.4,1022.8L681.9,1022.6L683.4,1022.4L684.9,1022.3L686.4,1022.3L687.9,1022.5L689.4,1022.8L690.9,1023.3L692.4,1023.7L693.9,1024.0L695.4,1024.3L696.9,1024.7L698.4,1025.0L699.9,1025.2L701.4,1025.3L702.9,1025.5L704.4,1025.6L705.9,1025.7L707.4,1025.8L708.9,1025.9L710.4,1026.0L711.9,1026.1L713.4,1026.2L714.9,1026.3L716.4,1026.4L717.9,1026.4L719.4,1026.5L720.9,1026.5L722.4,1026.6L723.9,1026.6L725.4,1026.7L726.9,1026.7L728.4,1026.7L729.9,1026.7L731.4,1026.7L732.9,1026.7L734.4,1026.7L735.9,1026.7L737.4,1026.7L738.9,1026.7L740.4,1026.7L741.9,1026.7L743.4,1026.6L744.9,1026.6L746.4,1026.6L747.9,1026.6L749.4,1026.6L750.9,1026.6L752.4,1026.5L753.9,1026.5L755.4,1026.5L756.9,1026.5L758.4,1026.4L759.9,1026.4L761.4,1026.3L762.9,1026.2L764.4,1026.0L765.9,1025.8L767.4,1025.6L768.9,1025.5L770.4,1025.5L771.9,1025.5L773.4,1025.6L774.9,1025.7L776.4,1025.8L777.9,1025.9L779.4,1026.0L780.9,1026.1L782.4,1026.2L783.9,1026.3L785.4,1026.4L786.9,1026.5L788.4,1026.6L789.9,1026.7L791.4,1026.7L792.9,1026.8L794.4,1026.9L795.9,1027.0L797.4,1027.0L798.9,1027.1L800.4,1027.2L801.9,1027.3L803.4,1027.3L804.9,1027.4L806.4,1027.5L807.9,1027.5L809.4,1027.6L810.9,1027.6L812.4,1027.7L813.9,1027.8L815.4,1027.8L816.9,1027.9L818.4,1028.0L819.9,1028.0L821.4,1028.1L822.9,1028.1L824.4,1028.1L825.9,1028.1L827.4,1027.9L828.9,1027.7L830.4,1027.4L831.9,1027.0L833.4,1026.7L834.9,1026.4L836.4,1026.1L837.9,1025.8L839.4,1025.6L840.9,1025.5L842.4,1025.6L843.9,1025.9L845.4,1026.3L846.9,1026.7L848.4,1027.1L849.9,1027.3L851.4,1027.4L852.9,1027.4L854.4,1027.5L855.9,1027.5L857.4,1027.5L858.9,1027.6L860.4,1027.6L861.9,1027.7L863.4,1027.7L864.9,1027.7L866.4,1027.8L867.9,1027.8L869.4,1027.8L870.9,1027.9L872.4,1027.9L873.9,1027.9L875.4,1028.0L876.9,1028.0L878.4,1028.1L879.9,1028.1L881.4,1028.1L882.9,1028.2L884.4,1028.2L885.9,1028.3L887.4,1028.3L888.9,1028.4L890.4,1028.4L891.9,1028.5L893.4,1028.5L894.9,1028.6L896.4,1028.6L897.9,1028.6L899.4,1028.7L900.9,1028.7L902.4,1028.8L903.9,1028.8L905.4,1028.9L906.9,1028.9L908.4,1028.9L909.9,1029.0L911.4,1029.0L912.9,1029.1L914.4,1029.1L915.9,1029.2L917.4,1029.2L918.9,1029.3L920.4,1029.3L921.9,1029.4L923.4,1029.4L924.9,1029.5L926.4,1029.5L927.9,1029.6L929.4,1029.6L930.9,1029.6L932.4,1029.7L933.9,1029.7L935.4,1029.7L936.9,1029.8L938.4,1029.8L939.9,1029.8L941.4,1029.8L942.9,1029.9L944.4,1029.9L945.9,1029.9L947.4,1029.9L948.9,1029.9L950.4,1029.9L951.9,1029.9L953.4,1029.8L954.9,1029.7L956.4,1029.6L957.9,1029.5L959.4,1029.3L960.9,1029.2L962.4,1029.1L963.9,1028.9L965.4,1028.7L966.9,1028.5L968.4,1028.3L969.9,1028.0L971.4,1027.8L972.9,1027.7L974.4,1027.6L975.9,1027.6L977.4,1027.8L978.9,1028.1L980.4,1028.4L981.9,1028.8L983.4,1029.1L984.9,1029.4L986.4,1029.6L987.9,1029.8L989.4,1030.0L990.9,1030.2L992.4,1030.3L993.9,1030.5L995.4,1030.6L996.9,1030.7L998.4,1030.8L999.9,1030.8L1001.4,1030.8L1002.9,1030.8L1004.4,1030.8L1005.9,1030.8L1007.4,1030.7L1008.9,1030.7L1010.4,1030.7L1011.9,1030.7L1013.4,1030.6L1014.9,1030.6L1016.4,1030.6L1017.9,1030.5L1019.4,1030.5L1020.9,1030.5L1022.4,1030.5L1023.9,1030.4L1025.4,1030.4L1026.9,1030.4L1028.4,1030.4L1029.9,1030.4L1031.4,1030.4L1032.9,1030.5L1034.4,1030.5L1035.9,1030.6L1037.4,1030.7L1038.9,1030.9L1040.4,1031.0L1041.9,1031.1L1043.4,1031.2L1044.9,1031.3L1046.4,1031.4L1047.9,1031.5L1049.4,1031.6L1050.9,1031.6L1052.4,1031.7L1053.9,1031.7L1055.4,1031.7L1056.9,1031.7L1058.4,1031.8L1059.9,1031.8L1061.4,1031.8L1062.9,1031.9L1064.4,1031.9L1065.9,1031.9L1067.4,1031.9L1068.9,1032.0L1070.4,1032.0L1071.9,1032.0L1073.4,1032.0L1074.9,1032.1L1076.4,1032.1L1077.9,1032.1L1079.4,1032.1L1080.9,1032.1L1082.4,1032.1L1083.9,1032.1L1085.4,1032.2L1086.9,1032.2L1088.4,1032.2L1089.9,1032.2L1091.4,1032.2L1092.9,1032.2L1094.4,1032.2L1095.9,1032.2L1097.4,1032.2L1097.6,1032.2" fill="none" stroke="#008000" stroke-width="4.1" stroke-linejoin="round" clip-path="url(#clipc)"/>
<path d="M120.9,1025.4L122.4,1025.4L123.9,1025.4L125.4,1025.4L126.9,1025.4L128.4,1025.4L129.9,1025.4L131.4,1025.4L132.9,1025.4L134.4,1025.4L135.9,1025.4L137.4,1025.4L138.9,1025.4L140.4,1025.4L141.9,1025.4L143.4,1025.4L144.9,1025.4L146.4,1025.4L147.9,1025.4L149.4,1025.4L150.9,1025.4L152.4,1025.4L153.9,1025.4L155.4,1025.4L156.9,1025.4L158.4,1025.4L159.9,1025.4L161.4,1025.4L162.9,1025.4L164.4,1025.4L165.9,1025.4L167.4,1025.4L168.9,1025.4L170.4,1025.4L171.9,1025.4L173.4,1025.4L174.9,1025.4L176.4,1025.4L177.9,1025.4L179.4,1025.4L180.9,1025.4L182.4,1025.4L183.9,1025.4L185.4,1025.4L186.9,1025.4L188.4,1025.4L189.9,1025.4L191.4,1025.4L192.9,1025.4L194.4,1025.4L195.9,1025.4L197.4,1025.4L198.9,1025.4L200.4,1025.4L201.9,1025.4L203.4,1025.4L204.9,1025.4L206.4,1025.4L207.9,1025.4L209.4,1025.4L210.9,1025.4L212.4,1025.4L213.9,1025.4L215.4,1025.4L216.9,1025.4L218.4,1025.4L219.9,1025.4L221.4,1025.4L222.9,1025.4L224.4,1025.4L225.9,1025.4L227.4,1025.4L228.9,1025.4L230.4,1025.4L231.9,1025.4L233.4,1025.4L234.9,1025.4L236.4,1025.4L237.9,1025.4L239.4,1025.4L240.9,1025.4L242.4,1025.4L243.9,1025.4L245.4,1025.4L246.9,1025.4L248.4,1025.4L249.9,1025.4L251.4,1025.4L252.9,1025.4L254.4,1025.4L255.9,1025.4L257.4,1025.3L258.9,1025.3L260.4,1025.3L261.9,1025.3L263.4,1025.3L264.9,1025.3L266.4,1025.3L267.9,1025.3L269.4,1025.3L270.9,1025.3L272.4,1025.3L273.9,1025.3L275.4,1025.3L276.9,1025.3L278.4,1025.3L279.9,1025.3L281.4,1025.3L282.9,1025.3L284.4,1025.3L285.9,1025.3L287.4,1025.3L288.9,1025.3L290.4,1025.2L291.9,1025.2L293.4,1025.2L294.9,1025.2L296.4,1025.2L297.9,1025.2L299.4,1025.2L300.9,1025.2L302.4,1025.1L303.9,1025.0L305.4,1024.9L306.9,1024.7L308.4,1024.5L309.9,1024.2L311.4,1023.9L312.9,1023.7L314.4,1023.4L315.9,1023.1L317.4,1022.8L318.9,1022.5L320.4,1022.2L321.9,1021.9L323.4,1021.6L324.9,1021.2L326.4,1020.8L327.9,1020.5L329.4,1020.1L330.9,1019.8L332.4,1019.6L333.9,1019.3L335.4,1018.9L336.6,1018.4L337.9,1017.8L339.1,1017.0L340.4,1016.1L341.4,1015.3L342.4,1014.3L343.1,1013.2L343.9,1011.8L344.6,1010.3L345.4,1008.5L345.9,1007.3L346.4,1005.9L346.9,1004.4L347.4,1002.7L347.9,1000.8L348.4,998.8L348.9,996.7L349.4,994.5L349.9,992.3L350.4,989.8L350.6,988.5L350.9,987.1L351.1,985.6L351.4,984.1L351.6,982.6L351.9,981.1L352.1,979.5L352.4,978.0L352.6,976.5L352.9,975.0L353.1,973.5L353.4,972.0L353.6,970.4L353.9,968.8L354.1,967.1L354.4,965.5L354.6,963.9L354.9,962.4L355.1,961.0L355.4,959.6L355.9,957.4L356.4,955.6L356.9,953.8L357.4,952.1L357.9,950.7L358.6,949.5L359.9,950.3L360.4,951.5L360.9,953.1L361.4,954.8L361.9,956.6L362.4,958.7L362.9,961.3L363.1,962.8L363.4,964.4L363.6,966.0L363.9,967.6L364.1,969.3L364.4,970.9L364.6,972.4L364.9,973.8L365.1,975.2L365.4,976.6L365.6,978.0L365.9,979.3L366.1,980.7L366.4,982.1L366.6,983.4L366.9,984.7L367.4,987.1L367.9,989.2L368.4,991.1L368.9,993.0L369.4,994.8L369.9,996.5L370.4,998.0L370.9,999.4L371.6,1001.0L372.4,1002.2L373.4,1003.4L374.4,1004.6L375.4,1005.4L376.6,1006.0L378.1,1005.9L379.6,1005.6L380.9,1005.1L382.1,1004.6L383.4,1004.1L384.6,1003.5L385.9,1002.8L387.1,1002.0L388.4,1001.0L389.4,1000.0L390.4,998.9L391.1,997.9L391.9,996.6L392.6,995.1L393.4,993.4L394.1,991.7L394.6,990.5L395.1,989.2L395.6,987.9L396.1,986.5L396.6,985.0L397.1,983.4L397.6,981.7L398.1,979.9L398.6,978.0L399.1,976.0L399.6,973.8L400.1,971.5L400.4,970.2L400.6,968.7L400.9,967.2L401.1,965.6L401.4,963.9L401.6,962.2L401.9,960.4L402.1,958.6L402.4,956.8L402.6,955.0L402.9,953.3L403.1,951.6L403.4,949.9L403.6,948.2L403.9,946.5L404.1,944.8L404.4,943.1L404.6,941.4L404.9,939.6L405.1,937.7L405.4,935.8L405.6,933.8L405.9,931.7L406.1,929.4L406.4,927.1L406.6,924.6L406.9,921.9L407.1,919.2L407.4,916.3L407.6,913.3L407.9,910.2L408.1,907.1L408.4,903.6L408.6,900.0L408.9,896.2L409.1,892.4L409.4,888.7L409.6,885.0L409.9,881.1L410.1,877.2L410.4,873.4L410.6,869.8L410.9,866.5L411.1,863.8L411.4,861.1L411.6,858.6L411.9,856.2L412.1,854.0L412.4,851.9L412.6,850.1L412.9,848.6L413.1,847.2L413.4,845.8L413.6,844.5L414.1,842.2L414.6,840.7L415.6,841.5L416.1,843.7L416.6,846.2L416.9,847.5L417.4,850.1L417.6,851.5L417.9,853.1L418.1,854.7L418.4,856.5L418.6,858.2L418.9,860.1L419.1,862.0L419.4,863.9L419.6,865.8L419.9,867.9L420.1,870.2L420.4,872.6L420.6,875.1L420.9,877.7L421.1,880.1L421.4,882.5L421.6,884.6L421.9,886.5L422.1,888.2L422.4,889.7L422.6,891.2L422.9,892.6L423.1,893.9L423.4,895.2L423.9,897.6L424.4,899.9L424.9,902.0L425.4,904.2L425.9,906.2L426.4,908.1L426.9,909.8L427.4,911.5L427.9,913.3L428.4,915.2L428.9,917.2L429.4,919.6L429.6,920.9L429.9,922.2L430.1,923.6L430.4,925.1L430.6,926.5L430.9,928.0L431.1,929.6L431.4,931.2L431.6,932.7L431.9,934.4L432.1,936.0L432.4,937.7L432.6,939.5L432.9,941.4L433.1,943.3L433.4,945.2L433.6,947.2L433.9,949.1L434.1,951.0L434.4,952.8L434.6,954.6L434.9,956.3L435.1,958.0L435.4,959.6L435.6,961.2L435.9,962.7L436.1,964.3L436.4,965.8L436.6,967.3L436.9,968.7L437.1,970.1L437.4,971.4L437.6,972.7L438.1,975.1L438.6,977.3L439.1,979.5L439.6,981.5L440.1,983.5L440.6,985.3L441.1,987.0L441.6,988.6L442.1,990.0L442.6,991.4L443.1,992.7L443.6,993.9L444.4,995.7L445.1,997.3L445.9,998.7L446.6,1000.0L447.4,1001.1L448.4,1002.4L449.4,1003.7L450.4,1004.8L451.4,1005.8L452.4,1006.7L453.4,1007.5L454.6,1008.5L455.9,1009.3L457.1,1010.1L458.4,1010.8L459.6,1011.5L460.9,1012.1L462.1,1012.6L463.4,1013.0L464.6,1013.4L466.1,1013.8L467.6,1014.2L469.1,1014.5L470.6,1014.9L472.1,1015.2L473.6,1015.6L475.1,1015.9L476.6,1016.1L478.1,1016.2L479.6,1016.1L481.1,1015.8L482.6,1015.4L483.9,1015.0L485.4,1014.6L486.6,1014.1L487.9,1013.5L489.1,1013.1L490.6,1013.1L491.9,1013.9L493.1,1014.9L494.4,1015.7L495.9,1015.5L497.1,1014.5L498.1,1013.5L499.4,1012.6L500.9,1012.6L502.1,1013.1L503.4,1013.8L504.6,1014.6L505.9,1015.4L507.1,1015.8L508.4,1016.2L509.6,1016.6L511.1,1017.0L512.6,1017.3L514.1,1017.5L515.6,1017.5L517.1,1017.4L518.6,1017.2L520.1,1017.0L521.6,1016.6L523.1,1016.3L524.6,1015.9L525.9,1015.5L527.1,1015.1L528.4,1014.5L529.6,1013.8L530.9,1013.0L532.1,1012.1L533.1,1011.3L534.1,1009.9L534.9,1008.5L535.6,1006.9L536.4,1005.2L537.1,1003.6L537.9,1002.1L538.6,1000.9L539.6,999.8L540.6,998.8L541.6,998.0L542.9,997.0L544.1,996.2L545.4,995.4L546.6,994.6L547.9,993.9L549.1,993.3L550.4,992.7L551.6,992.0L552.9,991.2L553.9,990.3L554.9,989.5L556.1,988.7L557.6,988.5L559.1,988.5L560.6,988.5L562.1,988.5L563.6,988.4L564.9,987.8L565.9,987.0L566.9,985.9L567.9,984.6L568.9,983.1L569.6,981.8L570.1,980.5L570.6,979.0L571.1,977.3L571.6,975.4L572.1,973.4L572.6,971.4L573.1,969.4L573.6,967.1L574.1,964.7L574.4,963.3L574.6,962.0L574.9,960.6L575.1,959.2L575.4,957.7L575.6,956.3L575.9,954.8L576.1,953.3L576.4,951.8L576.6,950.3L576.9,948.8L577.1,947.3L577.4,945.8L577.6,944.3L577.9,942.8L578.1,941.2L578.4,939.7L578.6,938.1L578.9,936.5L579.1,934.9L579.4,933.3L579.6,931.6L579.9,929.9L580.1,928.2L580.4,926.4L580.6,924.6L580.9,922.7L581.1,920.9L581.4,918.9L581.6,917.0L581.9,915.0L582.1,912.9L582.4,910.8L582.6,908.7L582.9,906.4L583.1,904.2L583.4,901.8L583.6,899.4L583.9,896.9L584.1,894.3L584.4,891.5L584.6,888.6L584.9,885.5L585.1,882.3L585.4,879.0L585.6,875.8L585.9,872.6L586.1,869.5L586.4,866.5L586.6,863.7L586.9,861.0L587.1,858.3L587.4,855.6L587.6,853.0L587.9,850.4L588.1,847.8L588.4,845.3L588.6,842.7L588.9,840.2L589.1,837.6L589.4,834.8L589.6,831.8L589.9,828.8L590.1,825.9L590.4,823.4L590.6,821.4L590.9,820.0L591.4,818.5L591.9,817.3L592.6,816.0L593.9,815.5L594.4,816.9L594.9,819.2L595.1,820.6L595.4,822.2L595.6,823.7L595.9,825.4L596.1,827.1L596.4,829.2L596.6,831.7L596.9,834.5L597.1,837.6L597.4,840.7L597.6,843.8L597.9,846.8L598.1,849.7L598.4,852.7L598.6,855.6L598.9,858.7L599.1,861.7L599.4,864.7L599.6,867.8L599.9,870.8L600.1,873.8L600.4,876.9L600.6,880.1L600.9,883.2L601.1,886.3L601.4,889.3L601.6,892.2L601.9,895.0L602.1,897.5L602.4,899.9L602.6,902.2L602.9,904.5L603.1,906.6L603.4,908.7L603.6,910.8L603.9,912.8L604.1,914.9L604.4,916.9L604.6,919.0L604.9,921.1L605.1,923.3L605.4,925.5L605.6,927.8L605.9,930.1L606.1,932.4L606.4,934.7L606.6,937.0L606.9,939.2L607.1,941.4L607.4,943.5L607.6,945.5L607.9,947.5L608.1,949.3L608.4,951.1L608.6,952.9L608.9,954.6L609.1,956.3L609.4,957.9L609.6,959.6L609.9,961.1L610.1,962.7L610.4,964.1L610.6,965.6L610.9,966.9L611.1,968.3L611.6,970.7L612.1,973.1L612.6,975.3L613.1,977.5L613.6,979.5L614.1,981.5L614.6,983.3L615.1,984.9L615.6,986.4L616.1,987.8L616.6,989.0L617.4,990.8L618.1,992.3L618.9,993.8L619.6,995.1L620.4,996.4L621.1,997.5L621.9,998.7L622.6,999.7L623.6,1001.1L624.6,1002.3L625.6,1003.5L626.6,1004.6L627.6,1005.5L628.6,1006.4L629.6,1007.2L630.9,1008.2L632.1,1009.1L633.4,1009.9L634.6,1010.7L635.9,1011.4L637.1,1012.1L638.4,1012.7L639.6,1013.4L640.9,1013.9" fill="none" stroke="#1f77b4" stroke-width="4.1" stroke-linejoin="round" stroke-dasharray="14.4 6.4" stroke-dashoffset="1.50" clip-path="url(#clipc)"/>
<path d="M640.9,1013.9L642.1,1014.4L643.4,1014.8L644.6,1015.2L645.9,1015.6L647.1,1016.0L648.6,1016.4L650.1,1016.8L651.6,1017.1L653.1,1017.4L654.6,1017.6L656.1,1017.8L657.6,1017.9L659.1,1018.1L660.6,1018.2L662.1,1018.3L663.6,1018.4L665.1,1018.4L666.6,1018.4L668.1,1018.3L669.6,1018.2L671.1,1018.1L672.6,1017.9L673.9,1017.3L675.1,1016.6L676.4,1015.7L677.6,1014.9L678.9,1014.2L680.1,1013.4L681.4,1012.7L682.6,1012.0L683.9,1011.5L685.4,1011.4L686.6,1012.0L687.9,1013.0L688.9,1014.0L689.9,1014.9L691.1,1015.9L692.4,1016.8L693.6,1017.8L694.9,1018.7L696.1,1019.5L697.4,1020.1L698.6,1020.5L699.9,1020.9L701.4,1021.3L702.9,1021.6L704.4,1021.9L705.9,1022.2L707.4,1022.4L708.9,1022.5L710.4,1022.5L711.9,1022.5L713.4,1022.5L714.9,1022.5L716.4,1022.5L717.9,1022.5L719.4,1022.5L720.9,1022.5L722.4,1022.5L723.9,1022.5L725.4,1022.5L726.9,1022.5L728.4,1022.5L729.9,1022.5L731.4,1022.5L732.9,1022.5L734.4,1022.5L735.9,1022.5L737.4,1022.5L738.9,1022.5L740.4,1022.5L741.9,1022.5L743.4,1022.4L744.9,1022.2L746.4,1022.1L747.9,1021.9L749.4,1021.6L750.9,1021.4L752.4,1021.1L753.9,1020.8L755.4,1020.5L756.6,1020.1L757.9,1019.6L759.1,1019.0L760.4,1018.4L761.6,1017.9L762.9,1017.4L764.4,1017.1L765.9,1017.2L767.4,1017.6L768.6,1018.1L769.9,1018.8L771.1,1019.5L772.4,1020.2L773.6,1020.7L774.9,1021.1L776.4,1021.4L777.9,1021.6L779.4,1021.9L780.9,1022.1L782.4,1022.3L783.9,1022.5L785.4,1022.7L786.9,1022.8L788.4,1022.9L789.9,1022.9L791.4,1022.9L792.9,1022.9L794.4,1022.9L795.9,1022.9L797.4,1022.9L798.9,1022.9L800.4,1022.9L801.9,1022.9L803.4,1022.9L804.9,1022.9L806.4,1022.9L807.9,1022.9L809.4,1022.9L810.9,1022.9L812.4,1022.9L813.9,1022.9L815.4,1022.9L816.9,1022.8L818.4,1022.6L819.9,1022.4L821.4,1022.1L822.9,1021.7L824.4,1021.3L825.6,1020.9L826.9,1020.4L828.1,1019.7L829.4,1018.9L830.6,1018.0L831.6,1017.1L832.6,1016.0L833.4,1014.8L834.1,1013.3L834.9,1011.7L835.6,1010.2L836.4,1008.8L837.4,1007.5L838.4,1006.3L839.4,1005.3L840.6,1004.5L841.9,1004.9L842.9,1006.0L843.9,1007.4L844.6,1008.4L845.6,1009.8L846.4,1011.0L847.1,1012.2L847.9,1013.5L848.6,1014.6L849.6,1015.7L850.9,1016.4L852.1,1017.0L853.4,1017.4L854.9,1017.6L856.4,1017.4L857.6,1016.9L858.9,1016.4L860.1,1015.8L861.4,1015.2L862.6,1014.5L863.9,1014.0L865.4,1013.8L866.6,1014.4L867.9,1015.3L869.1,1016.2L870.4,1017.0L871.6,1017.8L872.9,1018.6L874.1,1019.4L875.4,1020.1L876.6,1020.7L877.9,1021.1L879.4,1021.4L880.9,1021.7L882.4,1022.0L883.9,1022.2L885.4,1022.4L886.9,1022.6L888.4,1022.7L889.9,1022.9L891.4,1023.1L892.9,1023.2L894.4,1023.4L895.9,1023.6L897.4,1023.7L898.9,1023.8L900.4,1023.8L901.9,1023.8L903.4,1023.8L904.9,1023.8L906.4,1023.8L907.9,1023.8L909.4,1023.8L910.9,1023.8L912.4,1023.8L913.9,1023.7L915.4,1023.7L916.9,1023.7L918.4,1023.7L919.9,1023.7L921.4,1023.7L922.9,1023.6L924.4,1023.6L925.9,1023.6L927.4,1023.6L928.9,1023.5L930.4,1023.5L931.9,1023.5L933.4,1023.4L934.9,1023.4L936.4,1023.4L937.9,1023.3L939.4,1023.2L940.9,1023.0L942.4,1022.8L943.9,1022.7L945.4,1022.4L946.9,1022.2L948.4,1022.0L949.9,1021.7L951.4,1021.4L952.9,1021.1L954.4,1020.7L955.6,1020.3L956.9,1019.9L958.1,1019.4L959.4,1018.8L960.6,1018.1L961.6,1017.2L962.6,1016.1L963.6,1014.8L964.6,1013.4L965.4,1012.4L966.1,1011.3L966.9,1010.1L967.6,1008.7L968.4,1007.3L969.1,1005.9L969.9,1004.6L970.6,1003.5L971.4,1002.2L972.4,1001.0L973.6,1000.8L974.9,1001.3L976.1,1002.0L977.1,1003.1L977.9,1004.3L978.6,1005.7L979.4,1007.0L980.1,1008.2L980.9,1009.5L981.6,1010.9L982.4,1012.2L983.1,1013.5L983.9,1014.6L984.9,1015.8L986.1,1016.8L987.4,1017.8L988.6,1018.6L989.9,1019.3L991.1,1019.8L992.4,1020.2L993.9,1020.4L995.4,1020.6L996.9,1020.8L998.4,1021.0L999.9,1021.0L1001.4,1021.1L1002.9,1021.1L1004.4,1021.0L1005.9,1020.8L1007.4,1020.5L1008.9,1020.2L1010.4,1019.8L1011.9,1019.4L1013.1,1019.1L1014.4,1018.6L1015.6,1018.0L1016.9,1017.4L1018.1,1016.7L1019.4,1016.1L1020.6,1015.5L1021.9,1015.0L1023.1,1014.6L1024.4,1014.1L1025.7,1013.7L1027.2,1013.4L1028.7,1013.4L1030.2,1013.8L1031.4,1014.4L1032.7,1015.1L1033.9,1015.8L1035.2,1016.5L1036.4,1017.1L1037.7,1017.7L1038.9,1018.4L1040.2,1019.1L1041.4,1019.7L1042.7,1020.3L1043.9,1020.8L1045.4,1021.2L1046.9,1021.5L1048.4,1021.8L1049.9,1022.1L1051.4,1022.4L1052.9,1022.6L1054.4,1022.8L1055.9,1023.0L1057.4,1023.1L1058.9,1023.3L1060.4,1023.4L1061.9,1023.6L1063.4,1023.7L1064.9,1023.8L1066.4,1023.9L1067.9,1024.0L1069.4,1024.1L1070.9,1024.2L1072.4,1024.2L1073.9,1024.3L1075.4,1024.4L1076.9,1024.5L1078.4,1024.5L1079.9,1024.6L1081.4,1024.7L1082.9,1024.7L1084.4,1024.8L1085.9,1024.8L1087.4,1024.9L1088.9,1025.0L1090.4,1025.0L1091.9,1025.0L1093.4,1025.1L1094.9,1025.1L1096.4,1025.2L1097.6,1025.2" fill="none" stroke="#1f77b4" stroke-width="4.1" stroke-linejoin="round" stroke-dasharray="14.4 6.4" stroke-dashoffset="0.78" clip-path="url(#clipc)"/>
<g filter="url(#nf)">
<rect x="120.9" y="90.5" width="976.6999999999999" height="285.25" fill="none" stroke="#000" stroke-width="2.6"/>
<line x1="120.9" x2="120.9" y1="377.05" y2="381.95" stroke="#000" stroke-width="1.3"/>
<line x1="316.2" x2="316.2" y1="377.05" y2="381.95" stroke="#000" stroke-width="1.3"/>
<line x1="511.6" x2="511.6" y1="377.05" y2="381.95" stroke="#000" stroke-width="1.3"/>
<line x1="706.9" x2="706.9" y1="377.05" y2="381.95" stroke="#000" stroke-width="1.3"/>
<line x1="902.3" x2="902.3" y1="377.05" y2="381.95" stroke="#000" stroke-width="1.3"/>
<line x1="1097.6" x2="1097.6" y1="377.05" y2="381.95" stroke="#000" stroke-width="1.3"/>
<rect x="120.9" y="433.1" width="976.6999999999999" height="285.25" fill="none" stroke="#000" stroke-width="2.6"/>
<line x1="120.9" x2="120.9" y1="719.65" y2="724.55" stroke="#000" stroke-width="1.3"/>
<line x1="316.2" x2="316.2" y1="719.65" y2="724.55" stroke="#000" stroke-width="1.3"/>
<line x1="511.6" x2="511.6" y1="719.65" y2="724.55" stroke="#000" stroke-width="1.3"/>
<line x1="706.9" x2="706.9" y1="719.65" y2="724.55" stroke="#000" stroke-width="1.3"/>
<line x1="902.3" x2="902.3" y1="719.65" y2="724.55" stroke="#000" stroke-width="1.3"/>
<line x1="1097.6" x2="1097.6" y1="719.65" y2="724.55" stroke="#000" stroke-width="1.3"/>
<rect x="120.9" y="775.3" width="976.6999999999999" height="284.70000000000005" fill="none" stroke="#000" stroke-width="2.6"/>
<line x1="120.9" x2="120.9" y1="1061.3" y2="1066.2" stroke="#000" stroke-width="1.3"/>
<line x1="316.2" x2="316.2" y1="1061.3" y2="1066.2" stroke="#000" stroke-width="1.3"/>
<line x1="511.6" x2="511.6" y1="1061.3" y2="1066.2" stroke="#000" stroke-width="1.3"/>
<line x1="706.9" x2="706.9" y1="1061.3" y2="1066.2" stroke="#000" stroke-width="1.3"/>
<line x1="902.3" x2="902.3" y1="1061.3" y2="1066.2" stroke="#000" stroke-width="1.3"/>
<line x1="1097.6" x2="1097.6" y1="1061.3" y2="1066.2" stroke="#000" stroke-width="1.3"/>
<line x1="114.7" x2="119.60000000000001" y1="108.1" y2="108.1" stroke="#000" stroke-width="1.3"/>
<text x="108.6" y="118.5" font-size="29.19" text-anchor="end" fill="#000" font-weight="normal" textLength="44.20" lengthAdjust="spacingAndGlyphs">1.0</text>
<line x1="114.7" x2="119.60000000000001" y1="179.5" y2="179.5" stroke="#000" stroke-width="1.3"/>
<text x="108.6" y="189.9" font-size="29.19" text-anchor="end" fill="#000" font-weight="normal" textLength="44.20" lengthAdjust="spacingAndGlyphs">0.8</text>
<line x1="114.7" x2="119.60000000000001" y1="250.9" y2="250.9" stroke="#000" stroke-width="1.3"/>
<text x="108.6" y="261.3" font-size="29.19" text-anchor="end" fill="#000" font-weight="normal" textLength="44.20" lengthAdjust="spacingAndGlyphs">0.6</text>
<line x1="114.7" x2="119.60000000000001" y1="322.35" y2="322.35" stroke="#000" stroke-width="1.3"/>
<text x="108.6" y="332.75" font-size="29.19" text-anchor="end" fill="#000" font-weight="normal" textLength="44.20" lengthAdjust="spacingAndGlyphs">0.4</text>
<line x1="114.7" x2="119.60000000000001" y1="450.70000000000005" y2="450.70000000000005" stroke="#000" stroke-width="1.3"/>
<text x="108.6" y="461.1" font-size="29.19" text-anchor="end" fill="#000" font-weight="normal" textLength="44.20" lengthAdjust="spacingAndGlyphs">1.0</text>
<line x1="114.7" x2="119.60000000000001" y1="522.1" y2="522.1" stroke="#000" stroke-width="1.3"/>
<text x="108.6" y="532.5" font-size="29.19" text-anchor="end" fill="#000" font-weight="normal" textLength="44.20" lengthAdjust="spacingAndGlyphs">0.8</text>
<line x1="114.7" x2="119.60000000000001" y1="593.5" y2="593.5" stroke="#000" stroke-width="1.3"/>
<text x="108.6" y="603.9" font-size="29.19" text-anchor="end" fill="#000" font-weight="normal" textLength="44.20" lengthAdjust="spacingAndGlyphs">0.6</text>
<line x1="114.7" x2="119.60000000000001" y1="664.95" y2="664.95" stroke="#000" stroke-width="1.3"/>
<text x="108.6" y="675.35" font-size="29.19" text-anchor="end" fill="#000" font-weight="normal" textLength="44.20" lengthAdjust="spacingAndGlyphs">0.4</text>
<line x1="114.7" x2="119.60000000000001" y1="775.4" y2="775.4" stroke="#000" stroke-width="1.3"/>
<text x="108.6" y="785.8" font-size="29.19" text-anchor="end" fill="#000" font-weight="normal" textLength="61.88" lengthAdjust="spacingAndGlyphs">1.00</text>
<line x1="114.7" x2="119.60000000000001" y1="839.6" y2="839.6" stroke="#000" stroke-width="1.3"/>
<text x="108.6" y="850.0" font-size="29.19" text-anchor="end" fill="#000" font-weight="normal" textLength="61.88" lengthAdjust="spacingAndGlyphs">0.75</text>
<line x1="114.7" x2="119.60000000000001" y1="903.8" y2="903.8" stroke="#000" stroke-width="1.3"/>
<text x="108.6" y="914.1999999999999" font-size="29.19" text-anchor="end" fill="#000" font-weight="normal" textLength="61.88" lengthAdjust="spacingAndGlyphs">0.50</text>
<line x1="114.7" x2="119.60000000000001" y1="968.0" y2="968.0" stroke="#000" stroke-width="1.3"/>
<text x="108.6" y="978.4" font-size="29.19" text-anchor="end" fill="#000" font-weight="normal" textLength="61.88" lengthAdjust="spacingAndGlyphs">0.25</text>
<line x1="114.7" x2="119.60000000000001" y1="1032.1" y2="1032.1" stroke="#000" stroke-width="1.3"/>
<text x="108.6" y="1042.5" font-size="29.19" text-anchor="end" fill="#000" font-weight="normal" textLength="61.88" lengthAdjust="spacingAndGlyphs">0.00</text>
<line x1="1098.8999999999999" x2="1103.8" y1="775.3" y2="775.3" stroke="#000" stroke-width="1.3"/>
<text x="1109.8" y="785.6999999999999" font-size="29.19" text-anchor="start" fill="#000" font-weight="normal" textLength="44.20" lengthAdjust="spacingAndGlyphs">0.8</text>
<line x1="1098.8999999999999" x2="1103.8" y1="838.1" y2="838.1" stroke="#000" stroke-width="1.3"/>
<text x="1109.8" y="848.5" font-size="29.19" text-anchor="start" fill="#000" font-weight="normal" textLength="44.20" lengthAdjust="spacingAndGlyphs">0.6</text>
<line x1="1098.8999999999999" x2="1103.8" y1="900.9" y2="900.9" stroke="#000" stroke-width="1.3"/>
<text x="1109.8" y="911.3" font-size="29.19" text-anchor="start" fill="#000" font-weight="normal" textLength="44.20" lengthAdjust="spacingAndGlyphs">0.4</text>
<line x1="1098.8999999999999" x2="1103.8" y1="963.6" y2="963.6" stroke="#000" stroke-width="1.3"/>
<text x="1109.8" y="974.0" font-size="29.19" text-anchor="start" fill="#000" font-weight="normal" textLength="44.20" lengthAdjust="spacingAndGlyphs">0.2</text>
<line x1="1098.8999999999999" x2="1103.8" y1="1026.4" y2="1026.4" stroke="#000" stroke-width="1.3"/>
<text x="1109.8" y="1036.8000000000002" font-size="29.19" text-anchor="start" fill="#000" font-weight="normal" textLength="44.20" lengthAdjust="spacingAndGlyphs">0.0</text>
<text x="120.9" y="1094.2" font-size="29.19" text-anchor="middle" fill="#000" font-weight="normal" textLength="17.68" lengthAdjust="spacingAndGlyphs">5</text>
<text x="316.2" y="1094.2" font-size="29.19" text-anchor="middle" fill="#000" font-weight="normal" textLength="17.68" lengthAdjust="spacingAndGlyphs">6</text>
<text x="511.6" y="1094.2" font-size="29.19" text-anchor="middle" fill="#000" font-weight="normal" textLength="17.68" lengthAdjust="spacingAndGlyphs">7</text>
<text x="706.9" y="1094.2" font-size="29.19" text-anchor="middle" fill="#000" font-weight="normal" textLength="17.68" lengthAdjust="spacingAndGlyphs">8</text>
<text x="902.3" y="1094.2" font-size="29.19" text-anchor="middle" fill="#000" font-weight="normal" textLength="17.68" lengthAdjust="spacingAndGlyphs">9</text>
<text x="1097.6" y="1094.2" font-size="29.19" text-anchor="middle" fill="#000" font-weight="normal" textLength="35.36" lengthAdjust="spacingAndGlyphs">10</text>
<text x="609.0" y="1138.7" font-size="29.19" text-anchor="middle" fill="#000" font-weight="normal" textLength="242.00" lengthAdjust="spacingAndGlyphs">Wavelength (µm)</text>
<text x="41.3" y="232.3" font-size="29.19" text-anchor="middle" fill="#000" font-weight="normal" textLength="154.14" lengthAdjust="spacingAndGlyphs" transform="rotate(-90 41.3 232.3)">Reflectivity</text>
<text x="41.3" y="574.9000000000001" font-size="29.19" text-anchor="middle" fill="#000" font-weight="normal" textLength="154.14" lengthAdjust="spacingAndGlyphs" transform="rotate(-90 41.3 574.9000000000001)">Reflectivity</text>
<text x="22.8" y="918.2" font-size="29.19" text-anchor="middle" fill="#000" font-weight="normal" textLength="38.34" lengthAdjust="spacingAndGlyphs" transform="rotate(-90 22.8 918.2)">ΔR</text>
<g transform="rotate(-90 1193.2 975.0)" fill="#1f77b4"><text x="1193.2" y="975.0" font-size="29.2" textLength="61.16" lengthAdjust="spacingAndGlyphs">Im(ε</text><text x="1254.86" y="978.4" font-size="20.5" textLength="41.52" lengthAdjust="spacingAndGlyphs">DNT</text><text x="1296.88" y="975.0" font-size="29.2" textLength="10.84" lengthAdjust="spacingAndGlyphs">)</text></g>
<line x1="485.3" x2="530.0" y1="9.9" y2="9.9" stroke="#000" stroke-width="3.8" stroke-dasharray="12.9 4"/>
<line x1="483.7" x2="532.0" y1="41.7" y2="41.7" stroke="#000" stroke-width="3.8"/>
<text x="546.6" y="19.0" font-size="23.31" text-anchor="start" fill="#000" font-weight="normal" textLength="118.28" lengthAdjust="spacingAndGlyphs">Simulation</text>
<text x="546.6" y="48.3" font-size="23.31" text-anchor="start" fill="#000" font-weight="normal" textLength="152.89" lengthAdjust="spacingAndGlyphs">Measurement</text>
<rect x="132.6" y="284.2" width="244.6" height="79" rx="4.5" ry="4.5" fill="#fff" fill-opacity="0.8" stroke="#cbcbcb" stroke-width="2.6"/>
<line x1="139.8" x2="195.4" y1="303.8" y2="303.8" stroke="#ffa500" stroke-width="6.4"/>
<line x1="139.8" x2="195.4" y1="340.0" y2="340.0" stroke="#b22222" stroke-width="6.4"/>
<text x="211.6" y="312.6" font-size="25.52" text-anchor="start" fill="#000" font-weight="normal" textLength="115.18" lengthAdjust="spacingAndGlyphs">With DNT</text>
<text x="211.6" y="348.2" font-size="25.52" text-anchor="start" fill="#000" font-weight="normal" textLength="154.99" lengthAdjust="spacingAndGlyphs">Without DNT</text>
<rect x="132.6" y="626.8" width="244.6" height="79" rx="4.5" ry="4.5" fill="#fff" fill-opacity="0.8" stroke="#cbcbcb" stroke-width="2.6"/>
<line x1="139.8" x2="195.4" y1="646.4000000000001" y2="646.4000000000001" stroke="#008000" stroke-width="6.4"/>
<line x1="139.8" x2="195.4" y1="682.6" y2="682.6" stroke="#b22222" stroke-width="6.4"/>
<text x="211.6" y="655.2" font-size="25.52" text-anchor="start" fill="#000" font-weight="normal" textLength="115.18" lengthAdjust="spacingAndGlyphs">With DNT</text>
<text x="211.6" y="690.8" font-size="25.52" text-anchor="start" fill="#000" font-weight="normal" textLength="154.99" lengthAdjust="spacingAndGlyphs">Without DNT</text>
<text x="881.5" y="340.7" font-size="43.79" text-anchor="start" fill="#ffa500" font-weight="normal" textLength="156.46" lengthAdjust="spacingAndGlyphs">t=3min</text>
<text x="881.5" y="683.3" font-size="43.79" text-anchor="start" fill="#008000" font-weight="normal" textLength="156.46" lengthAdjust="spacingAndGlyphs">t=4min</text>
<text x="144.3" y="161.8" font-size="48.5" text-anchor="start" fill="#000" font-weight="bold" textLength="39.44" lengthAdjust="spacingAndGlyphs">a.</text>
<text x="144.3" y="504.40000000000003" font-size="48.5" text-anchor="start" fill="#000" font-weight="bold" textLength="42.04" lengthAdjust="spacingAndGlyphs">b.</text>
<text x="144.3" y="832.0" font-size="48.5" text-anchor="start" fill="#000" font-weight="bold" textLength="39.44" lengthAdjust="spacingAndGlyphs">c.</text>
<polygon points="247.0,892.1 179.5,892.1 186.0,884.2 152.0,894.0 186.0,903.8 179.5,895.9 247.0,895.9" fill="#ffa500" stroke="#ffa500" stroke-width="0.8" stroke-linejoin="round"/>
<polygon points="247.0,948.1 179.5,948.1 186.0,940.2 152.0,950.0 186.0,959.8 179.5,951.9 247.0,951.9" fill="#008000" stroke="#008000" stroke-width="0.8" stroke-linejoin="round"/>
<polygon points="971.4,935.5 1039.3,935.5 1032.8,927.6 1066.8,937.4 1032.8,947.2 1039.3,939.3 971.4,939.3" fill="#1f77b4" stroke="#1f77b4" stroke-width="0.8" stroke-linejoin="round"/>
</g>
</svg>
</body></html>
